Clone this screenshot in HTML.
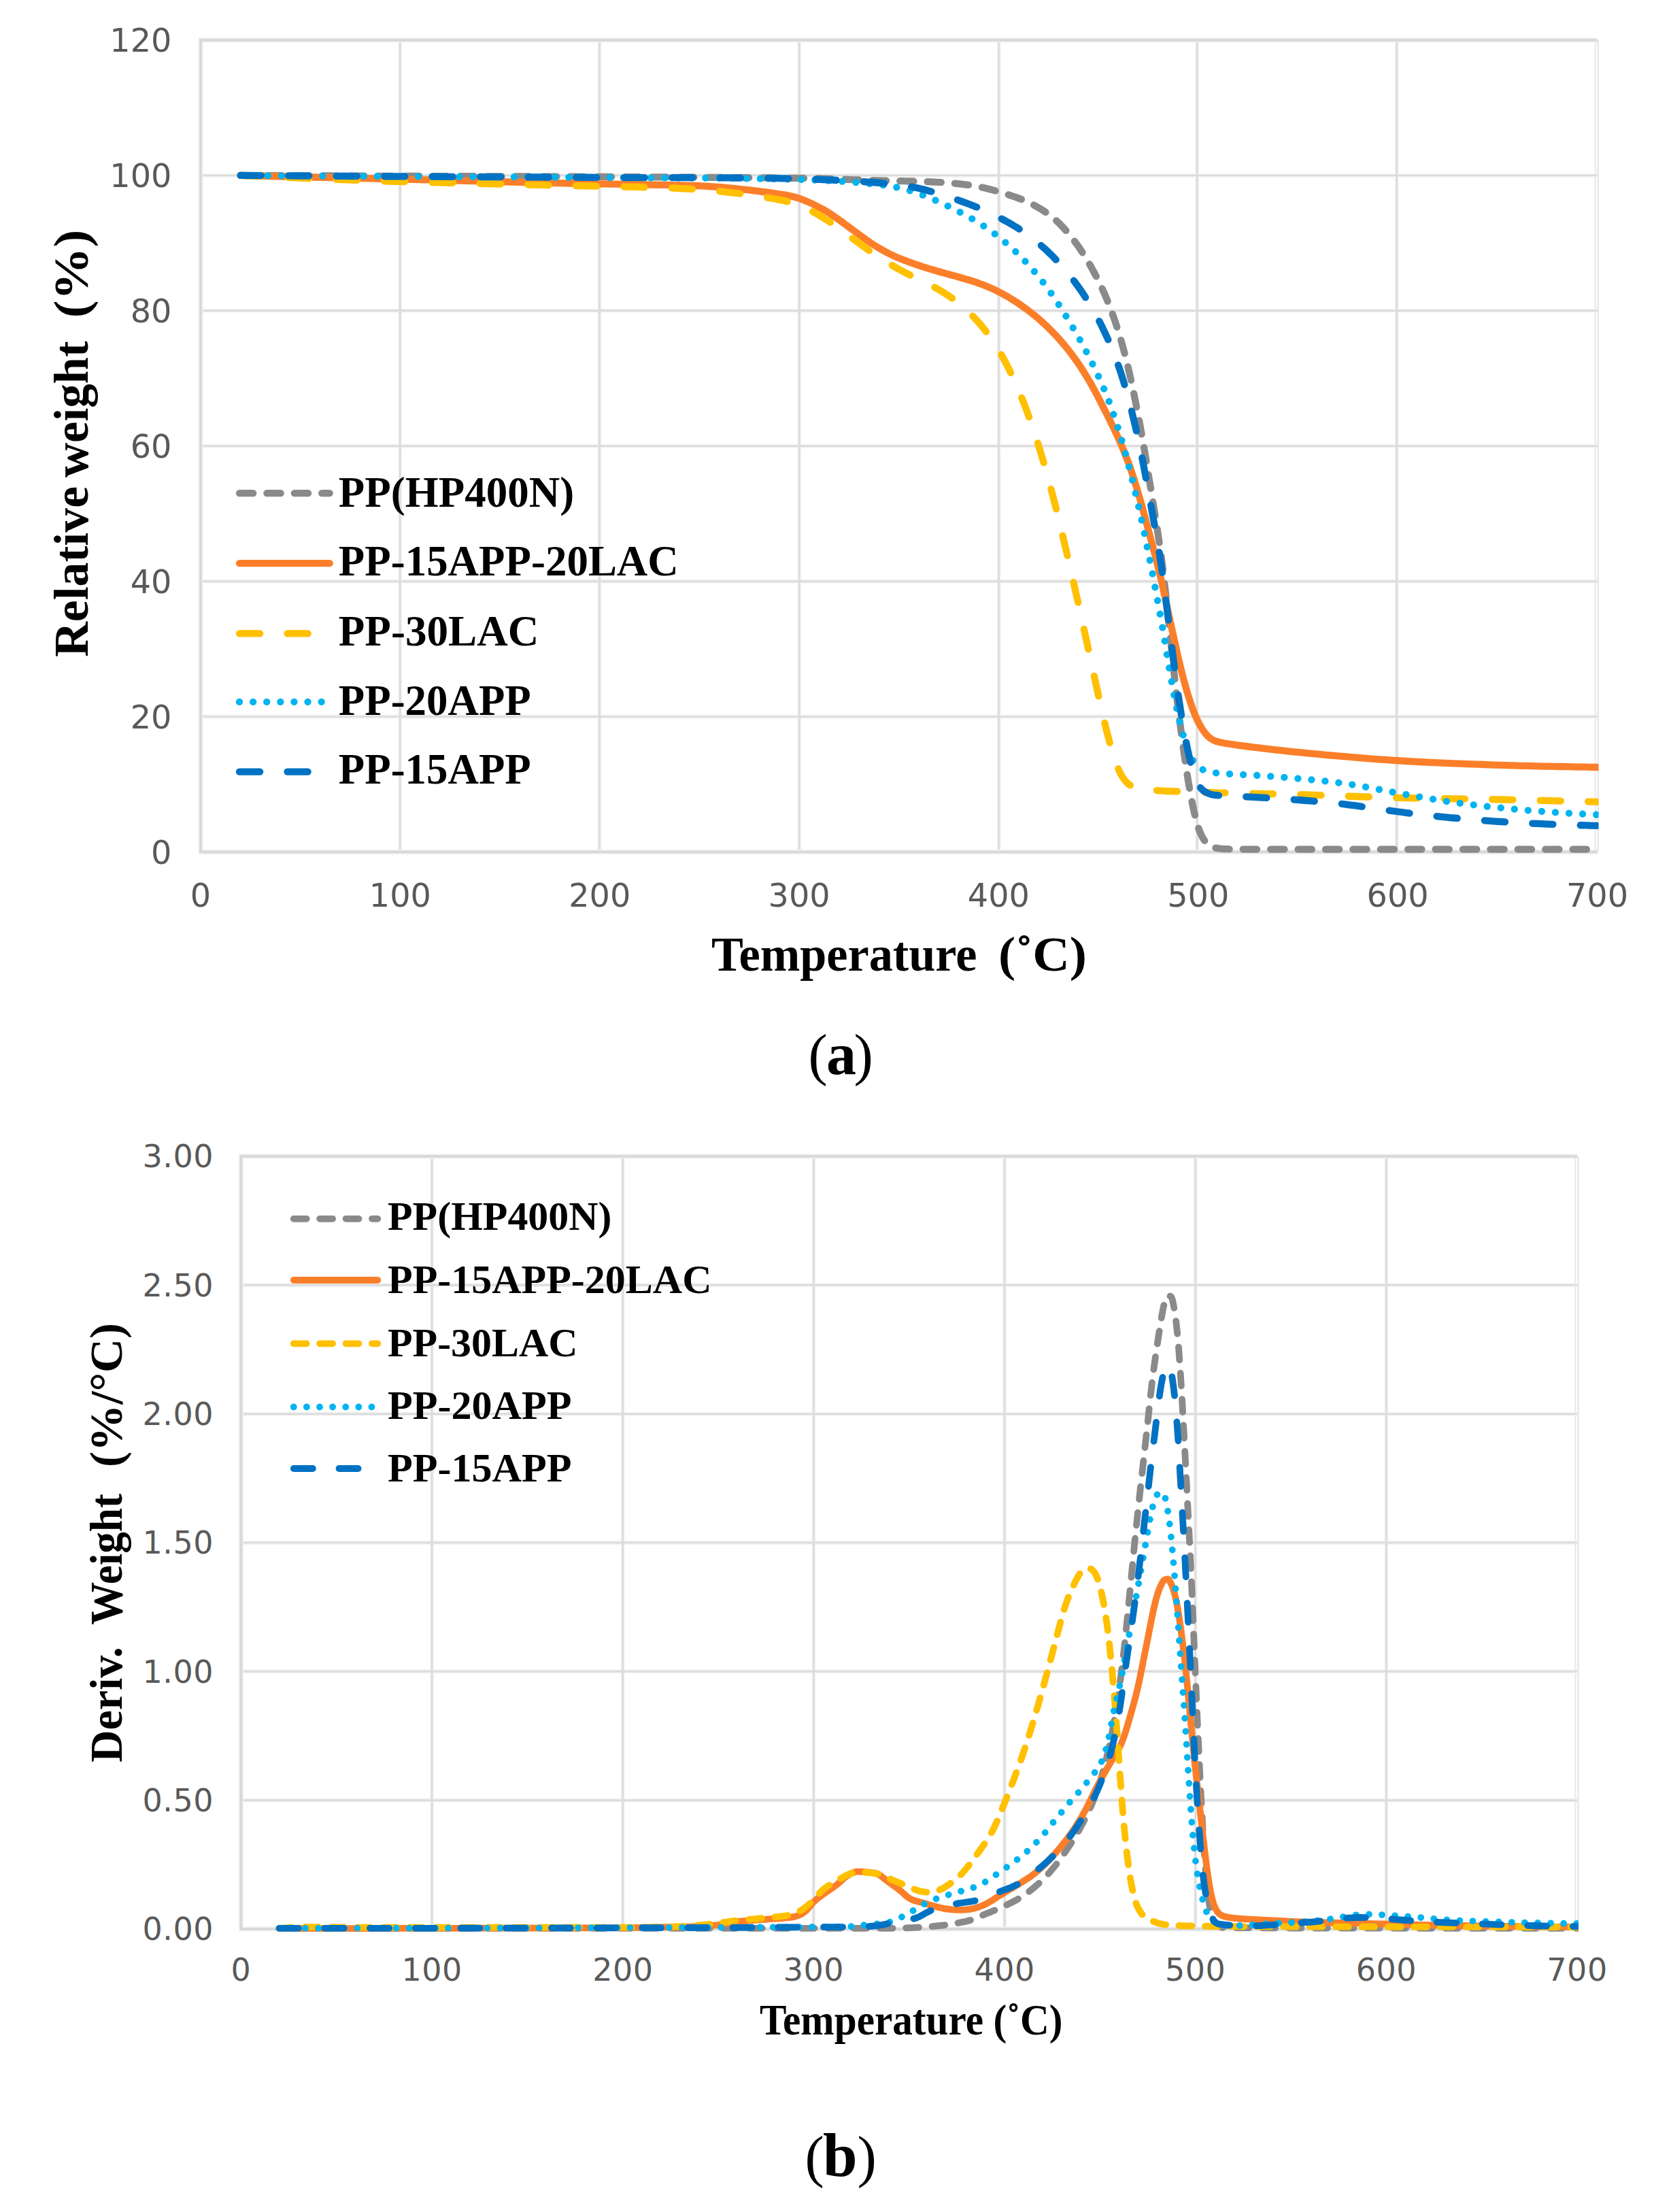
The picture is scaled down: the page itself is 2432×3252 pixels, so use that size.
<!DOCTYPE html>
<html lang="en"><head><meta charset="utf-8"><title>TGA and DTG curves</title>
<style>html,body{margin:0;padding:0;background:#fff}svg{display:block}</style></head>
<body>
<svg width="2432" height="3252" viewBox="0 0 2432 3252">
<rect width="2432" height="3252" fill="#fff"/>
<g id="chart-a">
<path d="M2349.9 59V1252.5" fill="none" stroke="#e3e3e3" stroke-width="2"/>
<path d="M2345.8 59V1252.5" fill="none" stroke="#e8e8e8" stroke-width="2"/>
<path d="M295 59V1252.5M588.2 59V1252.5M881.5 59V1252.5M1175.2 59V1252.5M1468.7 59V1252.5M1760.2 59V1252.5M2053.8 59V1252.5M295 1252.5H2348.5M295 1053.6H2348.5M295 854.7H2348.5M295 655.8H2348.5M295 456.8H2348.5M295 257.9H2348.5M295 59H2348.5" fill="none" stroke="#f0f0f0" stroke-width="5.5"/>
<path d="M295 59V1252.5M588.2 59V1252.5M881.5 59V1252.5M1175.2 59V1252.5M1468.7 59V1252.5M1760.2 59V1252.5M2053.8 59V1252.5M295 1252.5H2348.5M295 1053.6H2348.5M295 854.7H2348.5M295 655.8H2348.5M295 456.8H2348.5M295 257.9H2348.5M295 59H2348.5" fill="none" stroke="#dbdbdb" stroke-width="2.4"/>
<path d="M2348.5 59H295V1252.5H2348.5" fill="none" stroke="#efefef" stroke-width="7"/>
<path d="M2348.5 59H295V1252.5H2348.5" fill="none" stroke="#d8d8d8" stroke-width="3.4"/>
<g font-family="'DejaVu Sans','Liberation Sans',sans-serif" font-size="48.5" fill="#595959" letter-spacing="0">
<text transform="translate(252.5 1269.5) scale(0.985 1)" text-anchor="end">0</text>
<text transform="translate(252.5 1070.6) scale(0.985 1)" text-anchor="end">20</text>
<text transform="translate(252.5 871.6) scale(0.985 1)" text-anchor="end">40</text>
<text transform="translate(252.5 672.7) scale(0.985 1)" text-anchor="end">60</text>
<text transform="translate(252.5 473.8) scale(0.985 1)" text-anchor="end">80</text>
<text transform="translate(252.5 274.9) scale(0.985 1)" text-anchor="end">100</text>
<text transform="translate(252.5 76) scale(0.985 1)" text-anchor="end">120</text>
<text transform="translate(295 1333) scale(0.985 1)" text-anchor="middle">0</text>
<text transform="translate(588.4 1333) scale(0.985 1)" text-anchor="middle">100</text>
<text transform="translate(881.7 1333) scale(0.985 1)" text-anchor="middle">200</text>
<text transform="translate(1175.1 1333) scale(0.985 1)" text-anchor="middle">300</text>
<text transform="translate(1468.4 1333) scale(0.985 1)" text-anchor="middle">400</text>
<text transform="translate(1761.8 1333) scale(0.985 1)" text-anchor="middle">500</text>
<text transform="translate(2055.1 1333) scale(0.985 1)" text-anchor="middle">600</text>
<text transform="translate(2348.5 1333) scale(0.985 1)" text-anchor="middle">700</text>
</g>
<clipPath id="clip-chart-a"><rect x="275" y="39" width="2075.5" height="1233.5"/></clipPath>
<g clip-path="url(#clip-chart-a)">
<path d="M353.7 257.9C368.3 258 383 258.1 397.7 258.1C412.3 258.2 427 258.2 441.7 258.3C456.3 258.4 471 258.4 485.7 258.5C500.3 258.6 515 258.6 529.7 258.7C544.4 258.7 559 258.8 573.7 258.9C588.4 258.9 603 259 617.7 259C632.4 259.1 647 259.1 661.7 259.1C676.4 259.2 691 259.2 705.7 259.3C720.4 259.3 735 259.3 749.7 259.4C764.4 259.4 779 259.5 793.7 259.5C808.4 259.6 823 259.6 837.7 259.7C852.4 259.8 867 259.8 881.7 259.9C896.4 260 911 260.1 925.7 260.1C940.4 260.2 955.1 260.3 969.7 260.4C973.1 260.4 976.6 260.4 980 260.4C983.4 260.5 986.8 260.5 990.3 260.5C993.7 260.5 997.1 260.5 1000.5 260.6C1003.9 260.6 1007.4 260.6 1010.8 260.6C1014.2 260.6 1017.6 260.7 1021.1 260.7C1024.5 260.7 1027.9 260.7 1031.3 260.8C1034.7 260.8 1038.2 260.8 1041.6 260.8C1045 260.8 1048.4 260.9 1051.9 260.9C1055.3 260.9 1058.7 260.9 1062.1 261C1065.6 261 1069 261 1072.4 261C1075.8 261 1079.2 261.1 1082.7 261.1C1086.1 261.1 1089.5 261.1 1092.9 261.2C1096.4 261.2 1099.8 261.2 1103.2 261.3C1106.6 261.3 1110 261.3 1113.5 261.3C1116.9 261.4 1120.3 261.4 1123.7 261.4C1127.2 261.4 1130.6 261.5 1134 261.5C1137.4 261.5 1140.8 261.6 1144.3 261.6C1147.7 261.6 1151.1 261.7 1154.5 261.7C1158 261.7 1161.4 261.8 1164.8 261.8C1168.2 261.8 1171.6 261.9 1175.1 261.9C1176.8 261.9 1178.5 261.9 1180.2 262C1181.9 262 1183.6 262 1185.3 262C1187.1 262.1 1188.8 262.1 1190.5 262.1C1192.2 262.2 1193.9 262.2 1195.6 262.2C1197.3 262.3 1199 262.3 1200.7 262.4C1202.5 262.4 1204.2 262.5 1205.9 262.5C1207.6 262.6 1209.3 262.6 1211 262.7C1212.7 262.7 1214.4 262.8 1216.1 262.8C1217.9 262.9 1219.6 262.9 1221.3 263C1223 263 1224.7 263.1 1226.4 263.1C1228.1 263.2 1229.8 263.3 1231.5 263.3C1233.3 263.4 1235 263.4 1236.7 263.5C1238.4 263.6 1240.1 263.6 1241.8 263.7C1243.5 263.8 1245.2 263.8 1246.9 263.9C1248.7 263.9 1250.4 264 1252.1 264.1C1253.8 264.1 1255.5 264.2 1257.2 264.3C1258.9 264.3 1260.6 264.4 1262.3 264.4C1264.1 264.5 1265.8 264.6 1267.5 264.6C1269.2 264.7 1270.9 264.7 1272.6 264.8C1274.3 264.9 1276 264.9 1277.7 265C1279.5 265 1281.2 265.1 1282.9 265.1C1284.6 265.2 1286.3 265.2 1288 265.3C1289.7 265.3 1291.4 265.4 1293.1 265.4C1294.9 265.5 1296.6 265.5 1298.3 265.6C1300 265.6 1301.7 265.6 1303.4 265.7C1305.1 265.7 1306.8 265.8 1308.5 265.8C1310.3 265.8 1312 265.9 1313.7 265.9C1315.4 265.9 1317.1 266 1318.8 266C1320.5 266 1322.2 266.1 1324 266.1C1325.7 266.1 1327.4 266.1 1329.1 266.2C1330.8 266.2 1332.5 266.2 1334.2 266.3C1335.9 266.3 1337.6 266.3 1339.4 266.4C1341.1 266.4 1342.8 266.5 1344.5 266.5C1346.2 266.6 1347.9 266.6 1349.6 266.7C1351.3 266.7 1353 266.8 1354.8 266.8C1356.5 266.9 1358.2 266.9 1359.9 267C1361.6 267.1 1363.3 267.1 1365 267.2C1366.7 267.3 1368.4 267.3 1370.2 267.4C1371.9 267.5 1373.6 267.6 1375.3 267.7C1377 267.7 1378.7 267.8 1380.4 267.9C1382.1 268 1383.8 268.1 1385.6 268.3C1387.3 268.4 1389 268.5 1390.7 268.6C1392.4 268.7 1394.1 268.8 1395.8 269C1397.5 269.1 1399.2 269.3 1401 269.4C1402.7 269.6 1404.4 269.7 1406.1 269.9C1407.8 270 1409.5 270.2 1411.2 270.4C1412.9 270.6 1414.6 270.8 1416.4 271C1418.1 271.2 1419.8 271.4 1421.5 271.6C1423.2 271.8 1424.9 272 1426.6 272.3C1428.3 272.6 1430 272.8 1431.8 273.1C1433.5 273.4 1435.2 273.7 1436.9 274C1438.6 274.4 1440.3 274.7 1442 275.1C1443.7 275.4 1445.4 275.8 1447.2 276.2C1448.9 276.6 1450.6 277 1452.3 277.4C1454 277.8 1455.7 278.2 1457.4 278.7C1459.1 279.1 1460.9 279.6 1462.6 280.1C1464.3 280.6 1466 281.1 1467.7 281.6C1469.4 282.1 1471.1 282.6 1472.8 283.1C1474.5 283.7 1476.3 284.2 1478 284.7C1479.7 285.3 1481.4 285.8 1483.1 286.4C1484.8 286.9 1486.5 287.5 1488.2 288.1C1489.9 288.7 1491.7 289.3 1493.4 289.9C1495.1 290.5 1496.8 291.1 1498.5 291.8C1500.2 292.4 1501.9 293.1 1503.6 293.8C1505.3 294.5 1507.1 295.3 1508.8 296C1510.5 296.8 1512.2 297.5 1513.9 298.4C1515.6 299.2 1517.3 300 1519 300.9C1520.7 301.8 1522.5 302.7 1524.2 303.7C1525.9 304.6 1527.6 305.6 1529.3 306.6C1531 307.7 1532.7 308.8 1534.4 309.9C1536.1 311 1537.9 312.2 1539.6 313.4C1541.3 314.7 1543 316 1544.7 317.3C1546.4 318.6 1548.1 320 1549.8 321.5C1551.5 323 1553.3 324.5 1555 326.1C1556.7 327.7 1558.4 329.3 1560.1 331.1C1561.8 332.8 1563.5 334.6 1565.2 336.5C1566.9 338.4 1568.7 340.3 1570.4 342.4C1572.1 344.4 1573.8 346.5 1575.5 348.7C1577.2 350.9 1578.9 353.1 1580.6 355.4C1582.3 357.8 1584.1 360.2 1585.8 362.6C1587.5 365.1 1589.2 367.6 1590.9 370.3C1592.6 372.9 1594.3 375.6 1596 378.4C1597.8 381.1 1599.5 384 1601.2 386.9C1602.9 389.8 1604.6 392.9 1606.3 396C1608 399.1 1609.7 402.3 1611.4 405.6C1613.2 408.8 1614.9 412.2 1616.6 415.7C1618.3 419.2 1620 422.9 1621.7 426.7C1623.4 430.5 1625.1 434.4 1626.8 438.5C1628.6 442.7 1630.3 446.9 1632 451.4C1633.7 455.8 1635.4 460.5 1637.1 465.3C1638.8 470.1 1640.5 475.2 1642.2 480.5C1644 485.8 1645.7 491.3 1647.4 497.1C1649.1 502.9 1650.8 509 1652.5 515.5C1654.2 521.9 1655.9 528.6 1657.6 535.7C1659.4 542.8 1661.1 550.2 1662.8 558C1664.5 565.7 1666.2 573.8 1667.9 582.1C1669.6 590.4 1671.3 599.1 1673 608C1674.8 617 1676.5 626.2 1678.2 635.7C1679.9 645.3 1681.6 655.1 1683.3 665.2C1685 675.4 1686.7 686.1 1688.4 696.5C1690.2 707 1691.9 717.5 1693.6 727.9C1695.3 738.3 1697 748.3 1698.7 759.1C1700.4 769.8 1702.1 780.6 1703.8 792.4C1705.6 804.2 1707.3 816.8 1709 830.3C1710.7 843.9 1712.4 859.1 1714.1 874.4C1715.8 889.6 1717.5 906 1719.2 922.1C1721 938.2 1722.7 954.9 1724.4 970.9C1726.1 986.8 1727.8 1002.9 1729.5 1017.7C1731.2 1032.5 1732.9 1046.4 1734.7 1059.9C1736.4 1073.4 1738.1 1086.5 1739.8 1098.9C1741.5 1111.2 1743.2 1123.1 1744.9 1134.1C1746.6 1145 1748.3 1155.4 1750.1 1164.8C1751.8 1174.3 1753.5 1183.4 1755.2 1191C1756.9 1198.7 1758.6 1205.7 1760.3 1211.3C1762 1216.9 1763.7 1221.8 1765.5 1225.6C1767.2 1229.4 1768.9 1232.7 1770.6 1235.1C1772.3 1237.5 1774 1239.5 1775.7 1241C1777.4 1242.5 1779.1 1243.8 1780.9 1244.5C1782.6 1245.3 1784.3 1245.9 1786 1246.3C1787.7 1246.7 1789.4 1247 1791.1 1247.2C1792.8 1247.5 1794.5 1247.6 1796.3 1247.8C1798 1247.9 1799.7 1248 1801.4 1248.1C1803.1 1248.2 1804.8 1248.2 1806.5 1248.3C1808.2 1248.3 1809.9 1248.3 1811.7 1248.3C1813.4 1248.4 1815.1 1248.4 1816.8 1248.4C1818 1248.4 1819.2 1248.4 1820.5 1248.5C1826.3 1248.5 1832.2 1248.6 1838.1 1248.6C1843.9 1248.6 1849.8 1248.6 1855.7 1248.6C1861.5 1248.6 1867.4 1248.6 1873.3 1248.6C1879.1 1248.6 1885 1248.6 1890.9 1248.6C1896.7 1248.6 1902.6 1248.7 1908.5 1248.7C1914.3 1248.7 1920.2 1248.7 1926.1 1248.7C1931.9 1248.7 1937.8 1248.7 1943.7 1248.7C1949.5 1248.7 1955.4 1248.7 1961.3 1248.7C1967.1 1248.7 1973 1248.7 1978.9 1248.7C1984.7 1248.7 1990.6 1248.7 1996.5 1248.7C2002.3 1248.7 2008.2 1248.7 2014.1 1248.7C2019.9 1248.7 2025.8 1248.7 2031.7 1248.7C2037.5 1248.7 2043.4 1248.7 2049.3 1248.7C2055.1 1248.7 2061 1248.7 2066.9 1248.7C2072.7 1248.7 2078.6 1248.7 2084.5 1248.7C2090.3 1248.7 2096.2 1248.7 2102.1 1248.7C2107.9 1248.7 2113.8 1248.7 2119.7 1248.7C2125.5 1248.7 2131.4 1248.7 2137.3 1248.7C2143.2 1248.7 2149 1248.7 2154.9 1248.7C2160.8 1248.7 2166.6 1248.7 2172.5 1248.7C2178.4 1248.7 2184.2 1248.7 2190.1 1248.7C2196 1248.7 2201.8 1248.7 2207.7 1248.7C2213.6 1248.7 2219.4 1248.7 2225.3 1248.7C2231.2 1248.7 2237 1248.7 2242.9 1248.7C2248.8 1248.7 2254.6 1248.7 2260.5 1248.7C2266.4 1248.7 2272.2 1248.7 2278.1 1248.7C2284 1248.7 2289.8 1248.7 2295.7 1248.7C2301.6 1248.7 2307.4 1248.7 2313.3 1248.7C2319.2 1248.7 2325 1248.7 2330.9 1248.7C2336.8 1248.7 2342.6 1248.7 2348.5 1248.7" fill="none" stroke="#8a8a8a" stroke-width="10.3" stroke-linecap="round" stroke-linejoin="round" stroke-dasharray="20.3 20.1"/>
<path d="M353.7 257.9C368.3 258.3 383 258.6 397.7 259C412.3 259.3 427 259.6 441.7 260C456.3 260.3 471 260.7 485.7 261C500.3 261.4 515 261.7 529.7 262C544.4 262.4 559 262.7 573.7 263.1C588.4 263.4 603 263.7 617.7 264.1C632.4 264.4 647 264.8 661.7 265.2C676.4 265.6 691 266 705.7 266.3C720.4 266.7 735 267.1 749.7 267.5C764.4 267.8 779 268.2 793.7 268.5C808.4 268.9 823 269.2 837.7 269.5C852.4 269.8 867 270.1 881.7 270.3C896.4 270.6 911 270.8 925.7 271C940.4 271.3 955.1 271.5 969.7 271.8C973.1 271.8 976.6 271.9 980 271.9C983.4 272 986.8 272.1 990.3 272.2C993.7 272.2 997.1 272.3 1000.5 272.4C1003.9 272.5 1007.4 272.6 1010.8 272.7C1014.2 272.8 1017.6 272.9 1021.1 273C1024.5 273.1 1027.9 273.3 1031.3 273.4C1034.7 273.6 1038.2 273.8 1041.6 274C1045 274.2 1048.4 274.4 1051.9 274.7C1055.3 274.9 1058.7 275.2 1062.1 275.5C1065.6 275.8 1069 276.1 1072.4 276.4C1075.8 276.8 1079.2 277.1 1082.7 277.5C1086.1 277.8 1089.5 278.2 1092.9 278.5C1096.4 278.9 1099.8 279.3 1103.2 279.7C1106.6 280.1 1110 280.5 1113.5 280.9C1116.9 281.3 1120.3 281.8 1123.7 282.2C1127.2 282.6 1130.6 283.1 1134 283.5C1137.4 284 1140.8 284.5 1144.3 285C1147.7 285.5 1151.1 286 1154.5 286.6C1158 287.2 1161.4 287.9 1164.8 288.7C1168.2 289.5 1171.6 290.6 1175.1 291.7C1176.8 292.3 1178.5 293 1180.2 293.6C1181.9 294.3 1183.6 295 1185.3 295.7C1187.1 296.4 1188.8 297.1 1190.5 297.9C1192.2 298.7 1193.9 299.4 1195.6 300.3C1197.3 301.1 1199 301.9 1200.7 302.8C1202.5 303.7 1204.2 304.6 1205.9 305.5C1207.6 306.4 1209.3 307.3 1211 308.3C1212.7 309.3 1214.4 310.3 1216.1 311.3C1217.9 312.4 1219.6 313.5 1221.3 314.6C1223 315.7 1224.7 316.8 1226.4 318C1228.1 319.2 1229.8 320.4 1231.5 321.6C1233.3 322.8 1235 324 1236.7 325.3C1238.4 326.5 1240.1 327.8 1241.8 329.1C1243.5 330.3 1245.2 331.6 1246.9 332.9C1248.7 334.1 1250.4 335.4 1252.1 336.7C1253.8 337.9 1255.5 339.2 1257.2 340.4C1258.9 341.7 1260.6 342.9 1262.3 344.2C1264.1 345.4 1265.8 346.7 1267.5 347.9C1269.2 349.2 1270.9 350.4 1272.6 351.6C1274.3 352.8 1276 354.1 1277.7 355.2C1279.5 356.4 1281.2 357.6 1282.9 358.7C1284.6 359.8 1286.3 360.9 1288 362C1289.7 363.1 1291.4 364.1 1293.1 365.1C1294.9 366.1 1296.6 367.1 1298.3 368.1C1300 369 1301.7 370 1303.4 370.9C1305.1 371.8 1306.8 372.7 1308.5 373.5C1310.3 374.4 1312 375.2 1313.7 376C1315.4 376.8 1317.1 377.5 1318.8 378.3C1320.5 379 1322.2 379.7 1324 380.4C1325.7 381 1327.4 381.7 1329.1 382.4C1330.8 383 1332.5 383.6 1334.2 384.3C1335.9 384.9 1337.6 385.5 1339.4 386.2C1341.1 386.8 1342.8 387.4 1344.5 388C1346.2 388.6 1347.9 389.2 1349.6 389.8C1351.3 390.3 1353 390.9 1354.8 391.5C1356.5 392 1358.2 392.6 1359.9 393.1C1361.6 393.7 1363.3 394.2 1365 394.7C1366.7 395.2 1368.4 395.7 1370.2 396.3C1371.9 396.8 1373.6 397.3 1375.3 397.8C1377 398.3 1378.7 398.7 1380.4 399.2C1382.1 399.7 1383.8 400.2 1385.6 400.7C1387.3 401.1 1389 401.6 1390.7 402.1C1392.4 402.6 1394.1 403 1395.8 403.5C1397.5 404 1399.2 404.5 1401 404.9C1402.7 405.4 1404.4 405.9 1406.1 406.3C1407.8 406.8 1409.5 407.3 1411.2 407.8C1412.9 408.3 1414.6 408.8 1416.4 409.2C1418.1 409.7 1419.8 410.2 1421.5 410.8C1423.2 411.3 1424.9 411.8 1426.6 412.3C1428.3 412.8 1430 413.4 1431.8 413.9C1433.5 414.5 1435.2 415.1 1436.9 415.7C1438.6 416.3 1440.3 416.9 1442 417.5C1443.7 418.1 1445.4 418.8 1447.2 419.4C1448.9 420.1 1450.6 420.8 1452.3 421.5C1454 422.2 1455.7 423 1457.4 423.7C1459.1 424.5 1460.9 425.3 1462.6 426.1C1464.3 426.9 1466 427.8 1467.7 428.6C1469.4 429.5 1471.1 430.4 1472.8 431.3C1474.5 432.2 1476.3 433.1 1478 434.1C1479.7 435 1481.4 436 1483.1 437C1484.8 438.1 1486.5 439.1 1488.2 440.2C1489.9 441.2 1491.7 442.3 1493.4 443.4C1495.1 444.5 1496.8 445.7 1498.5 446.8C1500.2 448 1501.9 449.2 1503.6 450.4C1505.3 451.6 1507.1 452.8 1508.8 454.1C1510.5 455.4 1512.2 456.7 1513.9 458C1515.6 459.3 1517.3 460.6 1519 462C1520.7 463.4 1522.5 464.8 1524.2 466.2C1525.9 467.7 1527.6 469.1 1529.3 470.6C1531 472.1 1532.7 473.7 1534.4 475.2C1536.1 476.8 1537.9 478.4 1539.6 480.1C1541.3 481.7 1543 483.4 1544.7 485.1C1546.4 486.8 1548.1 488.6 1549.8 490.4C1551.5 492.2 1553.3 494 1555 495.9C1556.7 497.7 1558.4 499.6 1560.1 501.6C1561.8 503.6 1563.5 505.6 1565.2 507.6C1566.9 509.7 1568.7 511.8 1570.4 513.9C1572.1 516.1 1573.8 518.3 1575.5 520.6C1577.2 522.9 1578.9 525.2 1580.6 527.6C1582.3 529.9 1584.1 532.4 1585.8 534.9C1587.5 537.4 1589.2 540 1590.9 542.6C1592.6 545.2 1594.3 547.9 1596 550.7C1597.8 553.5 1599.5 556.3 1601.2 559.3C1602.9 562.2 1604.6 565.2 1606.3 568.3C1608 571.4 1609.7 574.6 1611.4 577.8C1613.2 581 1614.9 584.4 1616.6 587.7C1618.3 591 1620 594.3 1621.7 597.7C1623.4 601 1625.1 604.4 1626.8 607.7C1628.6 611.1 1630.3 614.5 1632 618C1633.7 621.5 1635.4 625 1637.1 628.5C1638.8 632.1 1640.5 635.7 1642.2 639.4C1644 643.2 1645.7 646.9 1647.4 650.9C1649.1 654.8 1650.8 658.8 1652.5 663C1654.2 667.2 1655.9 671.5 1657.6 676.1C1659.4 680.7 1661.1 685.4 1662.8 690.4C1664.5 695.4 1666.2 700.7 1667.9 706.1C1669.6 711.5 1671.3 717.1 1673 722.9C1674.8 728.7 1676.5 734.6 1678.2 740.7C1679.9 746.8 1681.6 753.1 1683.3 759.4C1685 765.8 1686.7 772.4 1688.4 778.8C1690.2 785.3 1691.9 791.7 1693.6 798.1C1695.3 804.5 1697 810.8 1698.7 817.4C1700.4 824 1702.1 830.6 1703.8 837.6C1705.6 844.7 1707.3 852.1 1709 859.7C1710.7 867.3 1712.4 875.3 1714.1 883.2C1715.8 891.1 1717.5 899.1 1719.2 907C1721 914.9 1722.7 922.8 1724.4 930.6C1726.1 938.4 1727.8 946.2 1729.5 953.7C1731.2 961.3 1732.9 968.8 1734.7 975.9C1736.4 983 1738.1 990 1739.8 996.5C1741.5 1003 1743.2 1009.3 1744.9 1015.1C1746.6 1021 1748.3 1026.6 1750.1 1031.8C1751.8 1036.9 1753.5 1041.8 1755.2 1046.2C1756.9 1050.5 1758.6 1054.6 1760.3 1058.2C1762 1061.8 1763.7 1065.1 1765.5 1068C1767.2 1070.9 1768.9 1073.6 1770.6 1075.9C1772.3 1078.2 1774 1080.3 1775.7 1082C1777.4 1083.6 1779.1 1085.1 1780.9 1086.2C1782.6 1087.3 1784.3 1088.2 1786 1088.9C1787.7 1089.6 1789.4 1090.2 1791.1 1090.6C1792.8 1091.1 1794.5 1091.4 1796.3 1091.8C1798 1092.1 1799.7 1092.4 1801.4 1092.7C1803.1 1093 1804.8 1093.3 1806.5 1093.5C1808.2 1093.8 1809.9 1094.1 1811.7 1094.3C1813.4 1094.6 1815.1 1094.8 1816.8 1095.1C1818 1095.2 1819.2 1095.4 1820.5 1095.6C1826.3 1096.4 1832.2 1097.2 1838.1 1097.9C1843.9 1098.7 1849.8 1099.4 1855.7 1100.1C1861.5 1100.8 1867.4 1101.5 1873.3 1102.2C1879.1 1102.9 1885 1103.5 1890.9 1104.1C1896.7 1104.8 1902.6 1105.4 1908.5 1105.9C1914.3 1106.5 1920.2 1107.1 1926.1 1107.7C1931.9 1108.2 1937.8 1108.8 1943.7 1109.3C1949.5 1109.9 1955.4 1110.4 1961.3 1110.9C1967.1 1111.4 1973 1111.9 1978.9 1112.4C1984.7 1112.9 1990.6 1113.4 1996.5 1113.9C2002.3 1114.4 2008.2 1114.8 2014.1 1115.3C2019.9 1115.7 2025.8 1116.2 2031.7 1116.6C2037.5 1117 2043.4 1117.4 2049.3 1117.8C2055.1 1118.2 2061 1118.6 2066.9 1119C2072.7 1119.3 2078.6 1119.7 2084.5 1120C2090.3 1120.3 2096.2 1120.6 2102.1 1120.9C2107.9 1121.1 2113.8 1121.4 2119.7 1121.7C2125.5 1121.9 2131.4 1122.2 2137.3 1122.4C2143.2 1122.6 2149 1122.8 2154.9 1123.1C2160.8 1123.3 2166.6 1123.5 2172.5 1123.7C2178.4 1123.9 2184.2 1124.1 2190.1 1124.3C2196 1124.4 2201.8 1124.6 2207.7 1124.8C2213.6 1125 2219.4 1125.2 2225.3 1125.3C2231.2 1125.5 2237 1125.7 2242.9 1125.8C2248.8 1126 2254.6 1126.1 2260.5 1126.3C2266.4 1126.4 2272.2 1126.5 2278.1 1126.7C2284 1126.8 2289.8 1126.9 2295.7 1127C2301.6 1127.1 2307.4 1127.3 2313.3 1127.4C2319.2 1127.5 2325 1127.6 2330.9 1127.7C2336.8 1127.8 2342.6 1127.9 2348.5 1128" fill="none" stroke="#fb7f2a" stroke-width="10.3" stroke-linecap="round" stroke-linejoin="round" />
<path d="M353.7 257.9C368.3 258.5 383 259.1 397.7 259.7C412.3 260.3 427 261.1 441.7 261.8C456.3 262.4 471 263 485.7 263.5C500.3 264.1 515 264.6 529.7 265.1C544.4 265.6 559 266.1 573.7 266.5C588.4 266.9 603 267.2 617.7 267.6C632.4 268 647 268.4 661.7 268.8C676.4 269.1 691 269.5 705.7 269.9C720.4 270.2 735 270.6 749.7 270.9C764.4 271.3 779 271.6 793.7 271.9C808.4 272.3 823 272.6 837.7 272.9C852.4 273.2 867 273.5 881.7 273.8C896.4 274.1 911 274.4 925.7 274.7C940.4 275.1 955.1 275.4 969.7 275.8C973.1 275.9 976.6 276 980 276.2C983.4 276.3 986.8 276.4 990.3 276.5C993.7 276.7 997.1 276.8 1000.5 277C1003.9 277.1 1007.4 277.3 1010.8 277.5C1014.2 277.7 1017.6 277.9 1021.1 278.1C1024.5 278.3 1027.9 278.5 1031.3 278.8C1034.7 279 1038.2 279.3 1041.6 279.6C1045 279.9 1048.4 280.2 1051.9 280.6C1055.3 280.9 1058.7 281.3 1062.1 281.6C1065.6 282 1069 282.4 1072.4 282.8C1075.8 283.2 1079.2 283.6 1082.7 284C1086.1 284.5 1089.5 284.9 1092.9 285.4C1096.4 285.8 1099.8 286.3 1103.2 286.8C1106.6 287.2 1110 287.7 1113.5 288.3C1116.9 288.8 1120.3 289.3 1123.7 289.8C1127.2 290.4 1130.6 290.9 1134 291.5C1137.4 292.1 1140.8 292.7 1144.3 293.4C1147.7 294 1151.1 294.7 1154.5 295.5C1158 296.3 1161.4 297.2 1164.8 298.2C1168.2 299.2 1171.6 300.4 1175.1 301.7C1176.8 302.3 1178.5 303 1180.2 303.8C1181.9 304.5 1183.6 305.3 1185.3 306.1C1187.1 306.9 1188.8 307.8 1190.5 308.6C1192.2 309.5 1193.9 310.5 1195.6 311.4C1197.3 312.3 1199 313.3 1200.7 314.3C1202.5 315.3 1204.2 316.3 1205.9 317.3C1207.6 318.3 1209.3 319.4 1211 320.5C1212.7 321.5 1214.4 322.6 1216.1 323.7C1217.9 324.8 1219.6 326 1221.3 327.1C1223 328.3 1224.7 329.5 1226.4 330.7C1228.1 331.9 1229.8 333.1 1231.5 334.3C1233.3 335.6 1235 336.8 1236.7 338.1C1238.4 339.3 1240.1 340.6 1241.8 341.8C1243.5 343.1 1245.2 344.4 1246.9 345.6C1248.7 346.9 1250.4 348.1 1252.1 349.4C1253.8 350.7 1255.5 351.9 1257.2 353.2C1258.9 354.4 1260.6 355.7 1262.3 356.9C1264.1 358.2 1265.8 359.4 1267.5 360.7C1269.2 361.9 1270.9 363.2 1272.6 364.4C1274.3 365.6 1276 366.9 1277.7 368.1C1279.5 369.3 1281.2 370.5 1282.9 371.7C1284.6 372.9 1286.3 374 1288 375.2C1289.7 376.3 1291.4 377.5 1293.1 378.6C1294.9 379.7 1296.6 380.8 1298.3 381.9C1300 383 1301.7 384 1303.4 385.1C1305.1 386.1 1306.8 387.2 1308.5 388.2C1310.3 389.2 1312 390.2 1313.7 391.2C1315.4 392.2 1317.1 393.2 1318.8 394.2C1320.5 395.1 1322.2 396.1 1324 397C1325.7 397.9 1327.4 398.9 1329.1 399.8C1330.8 400.7 1332.5 401.5 1334.2 402.4C1335.9 403.3 1337.6 404.2 1339.4 405C1341.1 405.9 1342.8 406.7 1344.5 407.5C1346.2 408.4 1347.9 409.2 1349.6 410.1C1351.3 410.9 1353 411.7 1354.8 412.5C1356.5 413.4 1358.2 414.2 1359.9 415C1361.6 415.9 1363.3 416.7 1365 417.6C1366.7 418.5 1368.4 419.4 1370.2 420.3C1371.9 421.1 1373.6 422.1 1375.3 423C1377 423.9 1378.7 424.9 1380.4 425.9C1382.1 426.9 1383.8 427.9 1385.6 428.9C1387.3 430 1389 431 1390.7 432.1C1392.4 433.2 1394.1 434.3 1395.8 435.5C1397.5 436.7 1399.2 437.9 1401 439.1C1402.7 440.3 1404.4 441.6 1406.1 442.9C1407.8 444.2 1409.5 445.6 1411.2 447C1412.9 448.4 1414.6 449.8 1416.4 451.3C1418.1 452.8 1419.8 454.4 1421.5 456C1423.2 457.6 1424.9 459.2 1426.6 460.9C1428.3 462.6 1430 464.4 1431.8 466.2C1433.5 468 1435.2 469.9 1436.9 471.8C1438.6 473.7 1440.3 475.7 1442 477.7C1443.7 479.7 1445.4 481.8 1447.2 484C1448.9 486.1 1450.6 488.4 1452.3 490.7C1454 492.9 1455.7 495.3 1457.4 497.8C1459.1 500.2 1460.9 502.8 1462.6 505.4C1464.3 508 1466 510.8 1467.7 513.6C1469.4 516.4 1471.1 519.4 1472.8 522.4C1474.5 525.4 1476.3 528.6 1478 531.8C1479.7 535 1481.4 538.4 1483.1 541.8C1484.8 545.2 1486.5 548.8 1488.2 552.4C1489.9 556.1 1491.7 559.8 1493.4 563.7C1495.1 567.5 1496.8 571.5 1498.5 575.6C1500.2 579.6 1501.9 583.8 1503.6 588.2C1505.3 592.5 1507.1 596.9 1508.8 601.5C1510.5 606 1512.2 610.7 1513.9 615.5C1515.6 620.3 1517.3 625.3 1519 630.3C1520.7 635.4 1522.5 640.6 1524.2 645.9C1525.9 651.2 1527.6 656.7 1529.3 662.2C1531 667.8 1532.7 673.5 1534.4 679.4C1536.1 685.2 1537.9 691.2 1539.6 697.4C1541.3 703.5 1543 709.8 1544.7 716.1C1546.4 722.5 1548.1 729.1 1549.8 735.8C1551.5 742.4 1553.3 749.3 1555 756.2C1556.7 763.1 1558.4 770.2 1560.1 777.3C1561.8 784.4 1563.5 791.6 1565.2 798.9C1566.9 806.1 1568.7 813.4 1570.4 820.8C1572.1 828.2 1573.8 835.6 1575.5 843.1C1577.2 850.5 1578.9 858 1580.6 865.6C1582.3 873.2 1584.1 880.9 1585.8 888.6C1587.5 896.2 1589.2 904 1590.9 911.8C1592.6 919.5 1594.3 927.3 1596 935.2C1597.8 943 1599.5 950.8 1601.2 958.7C1602.9 966.6 1604.6 974.4 1606.3 982.3C1608 990.2 1609.7 998 1611.4 1005.8C1613.2 1013.6 1614.9 1021.5 1616.6 1029.1C1618.3 1036.7 1620 1044.3 1621.7 1051.6C1623.4 1059 1625.1 1066.2 1626.8 1073.1C1628.6 1079.9 1630.3 1086.7 1632 1092.9C1633.7 1099.1 1635.4 1105.1 1637.1 1110.5C1638.8 1115.8 1640.5 1121 1642.2 1125.3C1644 1129.7 1645.7 1133.7 1647.4 1136.9C1649.1 1140.2 1650.8 1143 1652.5 1145.3C1654.2 1147.6 1655.9 1149.6 1657.6 1151.2C1659.4 1152.7 1661.1 1154 1662.8 1155C1664.5 1156 1666.2 1156.8 1667.9 1157.4C1669.6 1158 1671.3 1158.4 1673 1158.8C1674.8 1159.2 1676.5 1159.4 1678.2 1159.7C1679.9 1160 1681.6 1160.2 1683.3 1160.4C1685 1160.6 1686.7 1160.8 1688.4 1161C1690.2 1161.2 1691.9 1161.4 1693.6 1161.5C1695.3 1161.7 1697 1161.9 1698.7 1162C1700.4 1162.2 1702.1 1162.3 1703.8 1162.4C1705.6 1162.5 1707.3 1162.6 1709 1162.7C1710.7 1162.8 1712.4 1162.9 1714.1 1163C1715.8 1163 1717.5 1163.1 1719.2 1163.2C1721 1163.2 1722.7 1163.3 1724.4 1163.3C1726.1 1163.4 1727.8 1163.4 1729.5 1163.5C1731.2 1163.5 1732.9 1163.6 1734.7 1163.6C1736.4 1163.7 1738.1 1163.7 1739.8 1163.8C1741.5 1163.8 1743.2 1163.9 1744.9 1163.9C1746.6 1163.9 1748.3 1164 1750.1 1164C1751.8 1164.1 1753.5 1164.2 1755.2 1164.2C1756.9 1164.3 1758.6 1164.4 1760.3 1164.4C1762 1164.5 1763.7 1164.5 1765.5 1164.6C1767.2 1164.7 1768.9 1164.7 1770.6 1164.8C1772.3 1164.9 1774 1164.9 1775.7 1165C1777.4 1165 1779.1 1165.1 1780.9 1165.1C1782.6 1165.2 1784.3 1165.2 1786 1165.3C1787.7 1165.4 1789.4 1165.4 1791.1 1165.5C1792.8 1165.5 1794.5 1165.5 1796.3 1165.6C1798 1165.6 1799.7 1165.7 1801.4 1165.7C1803.1 1165.8 1804.8 1165.8 1806.5 1165.9C1808.2 1165.9 1809.9 1166 1811.7 1166C1813.4 1166 1815.1 1166.1 1816.8 1166.1C1818 1166.2 1819.2 1166.2 1820.5 1166.2C1826.3 1166.3 1832.2 1166.5 1838.1 1166.6C1843.9 1166.7 1849.8 1166.8 1855.7 1166.9C1861.5 1167 1867.4 1167.1 1873.3 1167.3C1879.1 1167.4 1885 1167.5 1890.9 1167.7C1896.7 1167.8 1902.6 1168 1908.5 1168.1C1914.3 1168.3 1920.2 1168.5 1926.1 1168.7C1931.9 1168.9 1937.8 1169.1 1943.7 1169.3C1949.5 1169.5 1955.4 1169.7 1961.3 1169.8C1967.1 1170 1973 1170.2 1978.9 1170.4C1984.7 1170.6 1990.6 1170.8 1996.5 1171C2002.3 1171.2 2008.2 1171.4 2014.1 1171.5C2019.9 1171.7 2025.8 1171.9 2031.7 1172.1C2037.5 1172.3 2043.4 1172.4 2049.3 1172.6C2055.1 1172.8 2061 1172.9 2066.9 1173.1C2072.7 1173.2 2078.6 1173.4 2084.5 1173.5C2090.3 1173.6 2096.2 1173.7 2102.1 1173.8C2107.9 1173.9 2113.8 1174 2119.7 1174.1C2125.5 1174.2 2131.4 1174.2 2137.3 1174.3C2143.2 1174.4 2149 1174.5 2154.9 1174.6C2160.8 1174.6 2166.6 1174.7 2172.5 1174.8C2178.4 1174.9 2184.2 1175 2190.1 1175.1C2196 1175.3 2201.8 1175.4 2207.7 1175.5C2213.6 1175.6 2219.4 1175.8 2225.3 1175.9C2231.2 1176 2237 1176.2 2242.9 1176.3C2248.8 1176.4 2254.6 1176.6 2260.5 1176.7C2266.4 1176.9 2272.2 1177 2278.1 1177.1C2284 1177.3 2289.8 1177.4 2295.7 1177.6C2301.6 1177.7 2307.4 1177.8 2313.3 1178C2319.2 1178.1 2325 1178.3 2330.9 1178.4C2336.8 1178.6 2342.6 1178.7 2348.5 1178.9" fill="none" stroke="#ffc000" stroke-width="10.3" stroke-linecap="round" stroke-linejoin="round" stroke-dasharray="30.2 40.3"/>
<path d="M353.7 257.9C368.3 258 383 258.1 397.7 258.2C412.3 258.3 427 258.4 441.7 258.5C456.3 258.6 471 258.7 485.7 258.8C500.3 258.9 515 259 529.7 259.1C544.4 259.2 559 259.2 573.7 259.3C588.4 259.4 603 259.5 617.7 259.6C632.4 259.6 647 259.7 661.7 259.8C676.4 259.9 691 259.9 705.7 260C720.4 260 735 260.1 749.7 260.2C764.4 260.2 779 260.3 793.7 260.4C808.4 260.5 823 260.5 837.7 260.6C852.4 260.7 867 260.8 881.7 260.9C896.4 261 911 261.1 925.7 261.2C940.4 261.2 955.1 261.3 969.7 261.3C973.1 261.4 976.6 261.4 980 261.4C983.4 261.4 986.8 261.4 990.3 261.4C993.7 261.5 997.1 261.5 1000.5 261.5C1003.9 261.5 1007.4 261.5 1010.8 261.5C1014.2 261.6 1017.6 261.6 1021.1 261.6C1024.5 261.6 1027.9 261.7 1031.3 261.7C1034.7 261.7 1038.2 261.7 1041.6 261.8C1045 261.8 1048.4 261.8 1051.9 261.8C1055.3 261.9 1058.7 261.9 1062.1 261.9C1065.6 262 1069 262 1072.4 262C1075.8 262.1 1079.2 262.1 1082.7 262.1C1086.1 262.2 1089.5 262.2 1092.9 262.3C1096.4 262.3 1099.8 262.4 1103.2 262.4C1106.6 262.5 1110 262.5 1113.5 262.6C1116.9 262.6 1120.3 262.7 1123.7 262.7C1127.2 262.8 1130.6 262.9 1134 262.9C1137.4 263 1140.8 263.1 1144.3 263.1C1147.7 263.2 1151.1 263.3 1154.5 263.4C1158 263.4 1161.4 263.5 1164.8 263.6C1168.2 263.7 1171.6 263.8 1175.1 263.9C1176.8 263.9 1178.5 264 1180.2 264C1181.9 264.1 1183.6 264.1 1185.3 264.2C1187.1 264.3 1188.8 264.3 1190.5 264.4C1192.2 264.4 1193.9 264.5 1195.6 264.6C1197.3 264.6 1199 264.7 1200.7 264.8C1202.5 264.9 1204.2 264.9 1205.9 265C1207.6 265.1 1209.3 265.2 1211 265.2C1212.7 265.3 1214.4 265.4 1216.1 265.5C1217.9 265.6 1219.6 265.7 1221.3 265.8C1223 265.8 1224.7 265.9 1226.4 266C1228.1 266.1 1229.8 266.2 1231.5 266.3C1233.3 266.4 1235 266.5 1236.7 266.6C1238.4 266.7 1240.1 266.8 1241.8 266.9C1243.5 267 1245.2 267.2 1246.9 267.3C1248.7 267.4 1250.4 267.5 1252.1 267.7C1253.8 267.8 1255.5 267.9 1257.2 268.1C1258.9 268.2 1260.6 268.4 1262.3 268.5C1264.1 268.6 1265.8 268.8 1267.5 269C1269.2 269.1 1270.9 269.3 1272.6 269.4C1274.3 269.6 1276 269.7 1277.7 269.9C1279.5 270.1 1281.2 270.2 1282.9 270.4C1284.6 270.6 1286.3 270.7 1288 270.9C1289.7 271.1 1291.4 271.3 1293.1 271.5C1294.9 271.7 1296.6 271.9 1298.3 272.1C1300 272.3 1301.7 272.5 1303.4 272.8C1305.1 273 1306.8 273.3 1308.5 273.6C1310.3 273.9 1312 274.2 1313.7 274.5C1315.4 274.8 1317.1 275.1 1318.8 275.5C1320.5 275.8 1322.2 276.2 1324 276.6C1325.7 277 1327.4 277.4 1329.1 277.8C1330.8 278.3 1332.5 278.7 1334.2 279.2C1335.9 279.7 1337.6 280.2 1339.4 280.7C1341.1 281.3 1342.8 281.8 1344.5 282.4C1346.2 282.9 1347.9 283.5 1349.6 284.1C1351.3 284.8 1353 285.4 1354.8 286C1356.5 286.7 1358.2 287.3 1359.9 288C1361.6 288.7 1363.3 289.3 1365 290C1366.7 290.7 1368.4 291.5 1370.2 292.2C1371.9 292.9 1373.6 293.6 1375.3 294.4C1377 295.1 1378.7 295.9 1380.4 296.7C1382.1 297.5 1383.8 298.2 1385.6 299C1387.3 299.8 1389 300.6 1390.7 301.5C1392.4 302.3 1394.1 303.1 1395.8 303.9C1397.5 304.8 1399.2 305.6 1401 306.5C1402.7 307.3 1404.4 308.2 1406.1 309.1C1407.8 310 1409.5 310.8 1411.2 311.7C1412.9 312.6 1414.6 313.5 1416.4 314.5C1418.1 315.4 1419.8 316.3 1421.5 317.3C1423.2 318.2 1424.9 319.2 1426.6 320.1C1428.3 321.1 1430 322.1 1431.8 323.1C1433.5 324.1 1435.2 325.2 1436.9 326.2C1438.6 327.3 1440.3 328.3 1442 329.4C1443.7 330.5 1445.4 331.6 1447.2 332.8C1448.9 333.9 1450.6 335.1 1452.3 336.3C1454 337.5 1455.7 338.7 1457.4 340C1459.1 341.2 1460.9 342.5 1462.6 343.8C1464.3 345.1 1466 346.4 1467.7 347.8C1469.4 349.1 1471.1 350.5 1472.8 351.9C1474.5 353.3 1476.3 354.7 1478 356.2C1479.7 357.7 1481.4 359.1 1483.1 360.6C1484.8 362.2 1486.5 363.7 1488.2 365.3C1489.9 366.8 1491.7 368.4 1493.4 370.1C1495.1 371.7 1496.8 373.4 1498.5 375.1C1500.2 376.8 1501.9 378.5 1503.6 380.2C1505.3 382 1507.1 383.8 1508.8 385.6C1510.5 387.4 1512.2 389.3 1513.9 391.2C1515.6 393.1 1517.3 395 1519 397C1520.7 399 1522.5 401 1524.2 403.1C1525.9 405.1 1527.6 407.2 1529.3 409.4C1531 411.5 1532.7 413.7 1534.4 416C1536.1 418.2 1537.9 420.5 1539.6 422.8C1541.3 425.1 1543 427.5 1544.7 429.9C1546.4 432.4 1548.1 434.9 1549.8 437.4C1551.5 439.9 1553.3 442.5 1555 445.1C1556.7 447.7 1558.4 450.4 1560.1 453C1561.8 455.7 1563.5 458.4 1565.2 461.2C1566.9 463.9 1568.7 466.7 1570.4 469.5C1572.1 472.3 1573.8 475.2 1575.5 478.1C1577.2 481 1578.9 483.9 1580.6 486.9C1582.3 489.8 1584.1 492.8 1585.8 495.9C1587.5 498.9 1589.2 502 1590.9 505.1C1592.6 508.2 1594.3 511.4 1596 514.7C1597.8 517.9 1599.5 521.2 1601.2 524.6C1602.9 527.9 1604.6 531.3 1606.3 534.8C1608 538.3 1609.7 541.8 1611.4 545.4C1613.2 549 1614.9 552.6 1616.6 556.4C1618.3 560.1 1620 564 1621.7 567.9C1623.4 571.9 1625.1 576 1626.8 580.3C1628.6 584.6 1630.3 589 1632 593.7C1633.7 598.4 1635.4 603.3 1637.1 608.4C1638.8 613.4 1640.5 618.7 1642.2 624.1C1644 629.5 1645.7 635 1647.4 640.7C1649.1 646.4 1650.8 652.3 1652.5 658.4C1654.2 664.4 1655.9 670.7 1657.6 677.2C1659.4 683.6 1661.1 690.3 1662.8 697C1664.5 703.8 1666.2 710.8 1667.9 717.9C1669.6 725 1671.3 732.3 1673 739.8C1674.8 747.2 1676.5 754.9 1678.2 762.7C1679.9 770.5 1681.6 778.6 1683.3 786.8C1685 795.1 1686.7 803.6 1688.4 812.2C1690.2 820.7 1691.9 829.5 1693.6 838.3C1695.3 847.1 1697 855.9 1698.7 865C1700.4 874 1702.1 883.1 1703.8 892.5C1705.6 901.9 1707.3 911.5 1709 921.3C1710.7 931.1 1712.4 941.3 1714.1 951.4C1715.8 961.5 1717.5 972 1719.2 981.9C1721 991.9 1722.7 1001.9 1724.4 1011.2C1726.1 1020.6 1727.8 1029.8 1729.5 1038C1731.2 1046.3 1732.9 1054.1 1734.7 1061.1C1736.4 1068.2 1738.1 1074.8 1739.8 1080.8C1741.5 1086.8 1743.2 1092.4 1744.9 1097.3C1746.6 1102.2 1748.3 1106.8 1750.1 1110.4C1751.8 1114 1753.5 1117.2 1755.2 1119.7C1756.9 1122.2 1758.6 1124.3 1760.3 1125.9C1762 1127.5 1763.7 1128.8 1765.5 1129.8C1767.2 1130.8 1768.9 1131.7 1770.6 1132.4C1772.3 1133.1 1774 1133.6 1775.7 1134.1C1777.4 1134.6 1779.1 1135 1780.9 1135.3C1782.6 1135.6 1784.3 1135.9 1786 1136.1C1787.7 1136.4 1789.4 1136.5 1791.1 1136.7C1792.8 1136.9 1794.5 1137 1796.3 1137.2C1798 1137.3 1799.7 1137.4 1801.4 1137.5C1803.1 1137.6 1804.8 1137.7 1806.5 1137.8C1808.2 1137.9 1809.9 1138 1811.7 1138.1C1813.4 1138.2 1815.1 1138.3 1816.8 1138.3C1818 1138.4 1819.2 1138.5 1820.5 1138.5C1826.3 1138.8 1832.2 1139.1 1838.1 1139.4C1843.9 1139.7 1849.8 1140.1 1855.7 1140.5C1861.5 1140.9 1867.4 1141.3 1873.3 1141.8C1879.1 1142.2 1885 1142.7 1890.9 1143.1C1896.7 1143.6 1902.6 1144.1 1908.5 1144.6C1914.3 1145.1 1920.2 1145.6 1926.1 1146.2C1931.9 1146.7 1937.8 1147.3 1943.7 1147.9C1949.5 1148.5 1955.4 1149.1 1961.3 1149.8C1967.1 1150.6 1973 1151.3 1978.9 1152.2C1984.7 1153 1990.6 1153.9 1996.5 1154.9C2002.3 1155.9 2008.2 1157 2014.1 1158.1C2019.9 1159.1 2025.8 1160.3 2031.7 1161.4C2037.5 1162.5 2043.4 1163.7 2049.3 1164.8C2055.1 1165.8 2061 1166.9 2066.9 1168C2072.7 1169 2078.6 1170.1 2084.5 1171.1C2090.3 1172.1 2096.2 1173.1 2102.1 1174.1C2107.9 1175.1 2113.8 1176 2119.7 1177C2125.5 1177.9 2131.4 1178.7 2137.3 1179.5C2143.2 1180.4 2149 1181.1 2154.9 1181.9C2160.8 1182.6 2166.6 1183.4 2172.5 1184C2178.4 1184.7 2184.2 1185.4 2190.1 1186C2196 1186.6 2201.8 1187.2 2207.7 1187.8C2213.6 1188.4 2219.4 1188.9 2225.3 1189.5C2231.2 1190 2237 1190.5 2242.9 1191C2248.8 1191.5 2254.6 1191.9 2260.5 1192.4C2266.4 1192.8 2272.2 1193.3 2278.1 1193.7C2284 1194.1 2289.8 1194.5 2295.7 1194.8C2301.6 1195.2 2307.4 1195.6 2313.3 1195.9C2319.2 1196.3 2325 1196.6 2330.9 1196.9C2336.8 1197.2 2342.6 1197.5 2348.5 1197.8" fill="none" stroke="#00b4f0" stroke-width="10.3" stroke-linecap="round" stroke-linejoin="round" stroke-dasharray="0.01 20.1"/>
<path d="M353.7 257.9C368.3 258 383 258.1 397.7 258.2C412.3 258.3 427 258.4 441.7 258.5C456.3 258.6 471 258.7 485.7 258.8C500.3 258.9 515 259 529.7 259.1C544.4 259.2 559 259.2 573.7 259.3C588.4 259.4 603 259.5 617.7 259.6C632.4 259.7 647 259.7 661.7 259.8C676.4 259.9 691 259.9 705.7 260C720.4 260.1 735 260.2 749.7 260.2C764.4 260.3 779 260.4 793.7 260.4C808.4 260.5 823 260.6 837.7 260.7C852.4 260.7 867 260.8 881.7 260.9C896.4 261 911 261 925.7 261.1C940.4 261.1 955.1 261.1 969.7 261.1C973.1 261.1 976.6 261.1 980 261.1C983.4 261.1 986.8 261.1 990.3 261.1C993.7 261.1 997.1 261.2 1000.5 261.2C1003.9 261.2 1007.4 261.2 1010.8 261.2C1014.2 261.2 1017.6 261.2 1021.1 261.2C1024.5 261.2 1027.9 261.2 1031.3 261.2C1034.7 261.2 1038.2 261.2 1041.6 261.3C1045 261.3 1048.4 261.3 1051.9 261.3C1055.3 261.3 1058.7 261.3 1062.1 261.3C1065.6 261.4 1069 261.4 1072.4 261.4C1075.8 261.4 1079.2 261.5 1082.7 261.5C1086.1 261.5 1089.5 261.5 1092.9 261.6C1096.4 261.6 1099.8 261.6 1103.2 261.7C1106.6 261.7 1110 261.7 1113.5 261.8C1116.9 261.8 1120.3 261.9 1123.7 261.9C1127.2 262 1130.6 262 1134 262.1C1137.4 262.1 1140.8 262.2 1144.3 262.2C1147.7 262.3 1151.1 262.4 1154.5 262.4C1158 262.5 1161.4 262.6 1164.8 262.7C1168.2 262.7 1171.6 262.8 1175.1 262.9C1176.8 262.9 1178.5 263 1180.2 263C1181.9 263.1 1183.6 263.1 1185.3 263.2C1187.1 263.2 1188.8 263.3 1190.5 263.3C1192.2 263.4 1193.9 263.5 1195.6 263.5C1197.3 263.6 1199 263.6 1200.7 263.7C1202.5 263.8 1204.2 263.8 1205.9 263.9C1207.6 264 1209.3 264 1211 264.1C1212.7 264.2 1214.4 264.3 1216.1 264.3C1217.9 264.4 1219.6 264.5 1221.3 264.6C1223 264.7 1224.7 264.7 1226.4 264.8C1228.1 264.9 1229.8 265 1231.5 265.1C1233.3 265.1 1235 265.2 1236.7 265.3C1238.4 265.4 1240.1 265.5 1241.8 265.6C1243.5 265.6 1245.2 265.7 1246.9 265.8C1248.7 265.9 1250.4 266 1252.1 266.1C1253.8 266.2 1255.5 266.3 1257.2 266.4C1258.9 266.5 1260.6 266.6 1262.3 266.7C1264.1 266.8 1265.8 266.9 1267.5 267C1269.2 267.1 1270.9 267.2 1272.6 267.3C1274.3 267.4 1276 267.5 1277.7 267.7C1279.5 267.8 1281.2 267.9 1282.9 268C1284.6 268.2 1286.3 268.3 1288 268.5C1289.7 268.6 1291.4 268.8 1293.1 268.9C1294.9 269.1 1296.6 269.2 1298.3 269.4C1300 269.6 1301.7 269.7 1303.4 269.9C1305.1 270.1 1306.8 270.3 1308.5 270.5C1310.3 270.7 1312 270.8 1313.7 271C1315.4 271.2 1317.1 271.4 1318.8 271.6C1320.5 271.8 1322.2 272.1 1324 272.3C1325.7 272.5 1327.4 272.7 1329.1 272.9C1330.8 273.2 1332.5 273.4 1334.2 273.7C1335.9 273.9 1337.6 274.2 1339.4 274.5C1341.1 274.8 1342.8 275.1 1344.5 275.5C1346.2 275.8 1347.9 276.2 1349.6 276.5C1351.3 276.9 1353 277.3 1354.8 277.7C1356.5 278.1 1358.2 278.6 1359.9 279C1361.6 279.4 1363.3 279.9 1365 280.4C1366.7 280.8 1368.4 281.3 1370.2 281.8C1371.9 282.3 1373.6 282.8 1375.3 283.3C1377 283.8 1378.7 284.3 1380.4 284.8C1382.1 285.4 1383.8 285.9 1385.6 286.4C1387.3 287 1389 287.5 1390.7 288.1C1392.4 288.7 1394.1 289.2 1395.8 289.8C1397.5 290.4 1399.2 291 1401 291.6C1402.7 292.1 1404.4 292.7 1406.1 293.3C1407.8 293.9 1409.5 294.5 1411.2 295.1C1412.9 295.7 1414.6 296.4 1416.4 297C1418.1 297.6 1419.8 298.2 1421.5 298.8C1423.2 299.5 1424.9 300.1 1426.6 300.8C1428.3 301.4 1430 302.1 1431.8 302.8C1433.5 303.4 1435.2 304.1 1436.9 304.8C1438.6 305.5 1440.3 306.2 1442 306.9C1443.7 307.7 1445.4 308.4 1447.2 309.2C1448.9 309.9 1450.6 310.7 1452.3 311.5C1454 312.3 1455.7 313.1 1457.4 313.9C1459.1 314.7 1460.9 315.6 1462.6 316.4C1464.3 317.3 1466 318.1 1467.7 319C1469.4 319.9 1471.1 320.8 1472.8 321.7C1474.5 322.6 1476.3 323.5 1478 324.5C1479.7 325.4 1481.4 326.4 1483.1 327.3C1484.8 328.3 1486.5 329.3 1488.2 330.3C1489.9 331.3 1491.7 332.3 1493.4 333.4C1495.1 334.4 1496.8 335.5 1498.5 336.6C1500.2 337.7 1501.9 338.9 1503.6 340C1505.3 341.2 1507.1 342.4 1508.8 343.6C1510.5 344.8 1512.2 346.1 1513.9 347.3C1515.6 348.6 1517.3 349.9 1519 351.3C1520.7 352.6 1522.5 354 1524.2 355.4C1525.9 356.8 1527.6 358.2 1529.3 359.6C1531 361.1 1532.7 362.6 1534.4 364.1C1536.1 365.7 1537.9 367.2 1539.6 368.8C1541.3 370.4 1543 372.1 1544.7 373.7C1546.4 375.4 1548.1 377.1 1549.8 378.9C1551.5 380.6 1553.3 382.4 1555 384.3C1556.7 386.1 1558.4 388 1560.1 389.9C1561.8 391.8 1563.5 393.7 1565.2 395.7C1566.9 397.7 1568.7 399.8 1570.4 401.8C1572.1 403.9 1573.8 406.1 1575.5 408.2C1577.2 410.4 1578.9 412.6 1580.6 414.9C1582.3 417.2 1584.1 419.6 1585.8 422C1587.5 424.4 1589.2 426.8 1590.9 429.4C1592.6 431.9 1594.3 434.5 1596 437.1C1597.8 439.8 1599.5 442.5 1601.2 445.3C1602.9 448.1 1604.6 451 1606.3 453.9C1608 456.9 1609.7 459.9 1611.4 463C1613.2 466.1 1614.9 469.4 1616.6 472.7C1618.3 476 1620 479.4 1621.7 482.9C1623.4 486.4 1625.1 490.1 1626.8 493.8C1628.6 497.6 1630.3 501.4 1632 505.4C1633.7 509.4 1635.4 513.6 1637.1 517.9C1638.8 522.2 1640.5 526.7 1642.2 531.4C1644 536.1 1645.7 541 1647.4 546.1C1649.1 551.3 1650.8 556.7 1652.5 562.4C1654.2 568.1 1655.9 574.1 1657.6 580.3C1659.4 586.5 1661.1 593 1662.8 599.7C1664.5 606.5 1666.2 613.4 1667.9 620.7C1669.6 627.9 1671.3 635.4 1673 643.2C1674.8 651 1676.5 659.1 1678.2 667.6C1679.9 676 1681.6 684.7 1683.3 693.8C1685 702.9 1686.7 712.6 1688.4 722C1690.2 731.4 1691.9 740.9 1693.6 750.3C1695.3 759.6 1697 768.6 1698.7 778.2C1700.4 787.8 1702.1 797.4 1703.8 808C1705.6 818.5 1707.3 829.9 1709 842C1710.7 854 1712.4 867.2 1714.1 880.4C1715.8 893.6 1717.5 907.4 1719.2 921C1721 934.6 1722.7 948.6 1724.4 961.9C1726.1 975.3 1727.8 988.7 1729.5 1001.1C1731.2 1013.4 1732.9 1025.3 1734.7 1036.4C1736.4 1047.5 1738.1 1058.1 1739.8 1067.9C1741.5 1077.6 1743.2 1086.9 1744.9 1095.3C1746.6 1103.7 1748.3 1111.6 1750.1 1118.5C1751.8 1125.4 1753.5 1132 1755.2 1137.2C1756.9 1142.3 1758.6 1146.9 1760.3 1150.2C1762 1153.6 1763.7 1156.4 1765.5 1158.4C1767.2 1160.5 1768.9 1162.1 1770.6 1163.3C1772.3 1164.5 1774 1165.3 1775.7 1166.1C1777.4 1166.8 1779.1 1167.5 1780.9 1167.9C1782.6 1168.4 1784.3 1168.7 1786 1168.9C1787.7 1169.1 1789.4 1169.3 1791.1 1169.4C1792.8 1169.5 1794.5 1169.5 1796.3 1169.6C1798 1169.6 1799.7 1169.7 1801.4 1169.8C1803.1 1169.9 1804.8 1170 1806.5 1170.1C1808.2 1170.2 1809.9 1170.3 1811.7 1170.4C1813.4 1170.4 1815.1 1170.5 1816.8 1170.6C1818 1170.7 1819.2 1170.8 1820.5 1170.8C1826.3 1171.1 1832.2 1171.4 1838.1 1171.7C1843.9 1172 1849.8 1172.3 1855.7 1172.6C1861.5 1172.9 1867.4 1173.3 1873.3 1173.6C1879.1 1174 1885 1174.3 1890.9 1174.7C1896.7 1175.1 1902.6 1175.6 1908.5 1176C1914.3 1176.4 1920.2 1176.9 1926.1 1177.4C1931.9 1177.8 1937.8 1178.3 1943.7 1178.9C1949.5 1179.4 1955.4 1179.9 1961.3 1180.6C1967.1 1181.2 1973 1181.8 1978.9 1182.6C1984.7 1183.3 1990.6 1184.1 1996.5 1184.9C2002.3 1185.7 2008.2 1186.6 2014.1 1187.4C2019.9 1188.2 2025.8 1189.1 2031.7 1190C2037.5 1190.8 2043.4 1191.7 2049.3 1192.5C2055.1 1193.3 2061 1194.1 2066.9 1194.8C2072.7 1195.6 2078.6 1196.3 2084.5 1197C2090.3 1197.7 2096.2 1198.4 2102.1 1199C2107.9 1199.6 2113.8 1200.2 2119.7 1200.8C2125.5 1201.4 2131.4 1202 2137.3 1202.5C2143.2 1203 2149 1203.6 2154.9 1204.1C2160.8 1204.6 2166.6 1205 2172.5 1205.5C2178.4 1206 2184.2 1206.4 2190.1 1206.8C2196 1207.3 2201.8 1207.7 2207.7 1208C2213.6 1208.4 2219.4 1208.8 2225.3 1209.1C2231.2 1209.5 2237 1209.8 2242.9 1210.1C2248.8 1210.4 2254.6 1210.7 2260.5 1210.9C2266.4 1211.2 2272.2 1211.5 2278.1 1211.7C2284 1211.9 2289.8 1212.1 2295.7 1212.3C2301.6 1212.6 2307.4 1212.7 2313.3 1212.9C2319.2 1213.1 2325 1213.3 2330.9 1213.4C2336.8 1213.6 2342.6 1213.8 2348.5 1213.9" fill="none" stroke="#0072c4" stroke-width="10.3" stroke-linecap="round" stroke-linejoin="round" stroke-dasharray="30.2 40.3"/>
</g>
<g font-family="'Liberation Serif',serif" font-weight="bold" font-size="62.5" fill="#000">
<path d="M352 725.1H484.7" fill="none" stroke="#8a8a8a" stroke-width="10.3" stroke-linecap="round" stroke-dasharray="20.3 20.1"/>
<text x="497.8" y="745" textLength="346.5" lengthAdjust="spacingAndGlyphs">PP(HP400N)</text>
<path d="M352 828.2H484.7" fill="none" stroke="#fb7f2a" stroke-width="10.3" stroke-linecap="round" />
<text x="497.8" y="846" textLength="500" lengthAdjust="spacingAndGlyphs">PP-15APP-20LAC</text>
<path d="M352 931.3H484.7" fill="none" stroke="#ffc000" stroke-width="10.3" stroke-linecap="round" stroke-dasharray="30.2 40.3"/>
<text x="497.8" y="949" textLength="294.5" lengthAdjust="spacingAndGlyphs">PP-30LAC</text>
<path d="M352 1031.9H484.7" fill="none" stroke="#00b4f0" stroke-width="10.3" stroke-linecap="round" stroke-dasharray="0.01 20.1"/>
<text x="497.8" y="1051" textLength="283" lengthAdjust="spacingAndGlyphs">PP-20APP</text>
<path d="M352 1134.6H484.7" fill="none" stroke="#0072c4" stroke-width="10.3" stroke-linecap="round" stroke-dasharray="30.2 40.3"/>
<text x="497.8" y="1152" textLength="283" lengthAdjust="spacingAndGlyphs">PP-15APP</text>
</g>
</g>
<g id="chart-b">
<path d="M2320.5 1700V2836" fill="none" stroke="#e3e3e3" stroke-width="2"/>
<path d="M2316.4 1700V2836" fill="none" stroke="#e8e8e8" stroke-width="2"/>
<path d="M354.5 1700V2836M635.1 1700V2836M915.8 1700V2836M1196.4 1700V2836M1477.1 1700V2836M1757.7 1700V2836M2038.4 1700V2836M354.5 2836H2319M354.5 2646.7H2319M354.5 2457.3H2319M354.5 2268H2319M354.5 2078.7H2319M354.5 1889.3H2319M354.5 1700H2319" fill="none" stroke="#f0f0f0" stroke-width="5.5"/>
<path d="M354.5 1700V2836M635.1 1700V2836M915.8 1700V2836M1196.4 1700V2836M1477.1 1700V2836M1757.7 1700V2836M2038.4 1700V2836M354.5 2836H2319M354.5 2646.7H2319M354.5 2457.3H2319M354.5 2268H2319M354.5 2078.7H2319M354.5 1889.3H2319M354.5 1700H2319" fill="none" stroke="#dbdbdb" stroke-width="2.4"/>
<path d="M2319 1700H354.5V2836H2319" fill="none" stroke="#efefef" stroke-width="7"/>
<path d="M2319 1700H354.5V2836H2319" fill="none" stroke="#d8d8d8" stroke-width="3.4"/>
<g font-family="'DejaVu Sans','Liberation Sans',sans-serif" font-size="46.5" fill="#595959" letter-spacing="0.5">
<text transform="translate(314 2852.2) scale(0.99 1)" text-anchor="end">0.00</text>
<text transform="translate(314 2662.9) scale(0.99 1)" text-anchor="end">0.50</text>
<text transform="translate(314 2473.6) scale(0.99 1)" text-anchor="end">1.00</text>
<text transform="translate(314 2284.2) scale(0.99 1)" text-anchor="end">1.50</text>
<text transform="translate(314 2094.9) scale(0.99 1)" text-anchor="end">2.00</text>
<text transform="translate(314 1905.6) scale(0.99 1)" text-anchor="end">2.50</text>
<text transform="translate(314 1716.2) scale(0.99 1)" text-anchor="end">3.00</text>
<text transform="translate(354.5 2911.5) scale(0.99 1)" text-anchor="middle">0</text>
<text transform="translate(635.1 2911.5) scale(0.99 1)" text-anchor="middle">100</text>
<text transform="translate(915.8 2911.5) scale(0.99 1)" text-anchor="middle">200</text>
<text transform="translate(1196.4 2911.5) scale(0.99 1)" text-anchor="middle">300</text>
<text transform="translate(1477.1 2911.5) scale(0.99 1)" text-anchor="middle">400</text>
<text transform="translate(1757.7 2911.5) scale(0.99 1)" text-anchor="middle">500</text>
<text transform="translate(2038.4 2911.5) scale(0.99 1)" text-anchor="middle">600</text>
<text transform="translate(2319 2911.5) scale(0.99 1)" text-anchor="middle">700</text>
</g>
<clipPath id="clip-chart-b"><rect x="334.5" y="1680" width="1986.5" height="1176"/></clipPath>
<g clip-path="url(#clip-chart-b)">
<path d="M410.6 2834.9C424.7 2834.9 438.7 2834.9 452.7 2834.9C466.8 2834.9 480.8 2834.9 494.8 2834.9C508.9 2834.9 522.9 2834.9 536.9 2834.9C551 2834.9 565 2834.9 579 2834.9C593 2834.9 607.1 2834.9 621.1 2834.9C635.1 2834.9 649.2 2834.9 663.2 2834.9C677.2 2834.9 691.3 2834.9 705.3 2834.9C719.3 2834.9 733.4 2834.9 747.4 2834.9C761.4 2834.9 775.5 2834.9 789.5 2834.9C803.5 2834.9 817.6 2834.9 831.6 2834.9C845.6 2834.9 859.7 2834.9 873.7 2834.9C887.7 2834.9 901.8 2834.9 915.8 2834.9C929.8 2834.9 943.9 2834.9 957.9 2834.9C971.9 2834.9 985.9 2834.9 1000 2834.9C1003.3 2834.9 1006.5 2834.9 1009.8 2834.9C1013.1 2834.9 1016.3 2834.9 1019.6 2834.9C1022.9 2834.9 1026.2 2834.9 1029.4 2834.9C1032.7 2834.9 1036 2834.9 1039.3 2834.9C1042.5 2834.9 1045.8 2834.9 1049.1 2834.9C1052.4 2834.9 1055.6 2834.9 1058.9 2834.9C1062.2 2834.9 1065.5 2834.9 1068.7 2834.9C1072 2834.9 1075.3 2834.9 1078.6 2834.9C1081.8 2834.9 1085.1 2834.9 1088.4 2834.9C1091.7 2834.9 1094.9 2834.9 1098.2 2834.9C1101.5 2834.9 1104.8 2834.9 1108 2834.9C1111.3 2834.9 1114.6 2834.9 1117.8 2834.9C1121.1 2834.9 1124.4 2834.9 1127.7 2834.9C1130.9 2834.9 1134.2 2834.9 1137.5 2834.9C1140.8 2834.9 1144 2834.9 1147.3 2834.9C1150.6 2834.9 1153.9 2834.9 1157.1 2834.9C1160.4 2834.9 1163.7 2834.9 1167 2834.9C1170.2 2834.9 1173.5 2834.9 1176.8 2834.9C1180.1 2834.9 1183.3 2834.9 1186.6 2834.9C1189.9 2834.9 1193.2 2834.9 1196.4 2834.9C1198.1 2834.9 1199.7 2834.9 1201.3 2834.9C1203 2834.9 1204.6 2834.9 1206.3 2834.9C1207.9 2834.9 1209.5 2834.9 1211.2 2834.9C1212.8 2834.9 1214.4 2834.9 1216.1 2834.9C1217.7 2834.9 1219.3 2834.9 1221 2834.9C1222.6 2834.9 1224.3 2834.9 1225.9 2834.9C1227.5 2834.9 1229.2 2834.9 1230.8 2834.9C1232.4 2834.9 1234.1 2834.9 1235.7 2834.9C1237.4 2834.9 1239 2834.9 1240.6 2834.9C1242.3 2834.9 1243.9 2834.9 1245.5 2834.9C1247.2 2834.9 1248.8 2834.9 1250.5 2834.9C1252.1 2834.9 1253.7 2834.9 1255.4 2834.9C1257 2834.9 1258.6 2834.9 1260.3 2834.9C1261.9 2834.9 1263.5 2834.9 1265.2 2834.9C1266.8 2834.9 1268.5 2834.9 1270.1 2834.9C1271.7 2834.9 1273.4 2834.9 1275 2834.9C1276.6 2834.9 1278.3 2834.9 1279.9 2834.9C1281.6 2834.9 1283.2 2834.9 1284.8 2834.9C1286.5 2834.9 1288.1 2834.9 1289.7 2834.9C1291.4 2834.9 1293 2834.9 1294.7 2834.9C1296.3 2834.9 1297.9 2834.9 1299.6 2834.9C1301.2 2834.9 1302.8 2834.9 1304.5 2834.9C1306.1 2834.9 1307.8 2834.9 1309.4 2834.9C1311 2834.9 1312.7 2834.8 1314.3 2834.8C1315.9 2834.8 1317.6 2834.8 1319.2 2834.7C1320.8 2834.7 1322.5 2834.7 1324.1 2834.6C1325.8 2834.6 1327.4 2834.5 1329 2834.5C1330.7 2834.4 1332.3 2834.4 1333.9 2834.3C1335.6 2834.2 1337.2 2834.2 1338.9 2834.1C1340.5 2834.1 1342.1 2834 1343.8 2833.9C1345.4 2833.9 1347 2833.8 1348.7 2833.7C1350.3 2833.6 1352 2833.5 1353.6 2833.4C1355.2 2833.3 1356.9 2833.2 1358.5 2833.1C1360.1 2833 1361.8 2832.8 1363.4 2832.7C1365 2832.6 1366.7 2832.5 1368.3 2832.3C1370 2832.2 1371.6 2832 1373.2 2831.9C1374.9 2831.7 1376.5 2831.6 1378.1 2831.4C1379.8 2831.3 1381.4 2831.1 1383.1 2830.9C1384.7 2830.7 1386.3 2830.5 1388 2830.3C1389.6 2830 1391.2 2829.8 1392.9 2829.6C1394.5 2829.3 1396.2 2829.1 1397.8 2828.8C1399.4 2828.6 1401.1 2828.3 1402.7 2828C1404.3 2827.8 1406 2827.5 1407.6 2827.2C1409.2 2826.9 1410.9 2826.7 1412.5 2826.3C1414.2 2826 1415.8 2825.7 1417.4 2825.4C1419.1 2825 1420.7 2824.6 1422.3 2824.2C1424 2823.8 1425.6 2823.4 1427.3 2822.9C1428.9 2822.5 1430.5 2821.9 1432.2 2821.3C1433.8 2820.7 1435.4 2820 1437.1 2819.3C1438.7 2818.6 1440.4 2817.8 1442 2817C1443.6 2816.3 1445.3 2815.6 1446.9 2814.8C1448.5 2814.1 1450.2 2813.5 1451.8 2812.8C1453.5 2812.1 1455.1 2811.4 1456.7 2810.8C1458.4 2810.1 1460 2809.5 1461.6 2808.8C1463.3 2808.1 1464.9 2807.4 1466.5 2806.7C1468.2 2806 1469.8 2805.3 1471.5 2804.6C1473.1 2803.8 1474.7 2803.1 1476.4 2802.3C1478 2801.6 1479.6 2800.8 1481.3 2800C1482.9 2799.3 1484.6 2798.5 1486.2 2797.6C1487.8 2796.8 1489.5 2796 1491.1 2795.1C1492.7 2794.2 1494.4 2793.3 1496 2792.3C1497.7 2791.4 1499.3 2790.4 1500.9 2789.3C1502.6 2788.3 1504.2 2787.2 1505.8 2786.1C1507.5 2785 1509.1 2783.8 1510.7 2782.6C1512.4 2781.4 1514 2780.2 1515.7 2778.9C1517.3 2777.6 1518.9 2776.3 1520.6 2774.9C1522.2 2773.6 1523.8 2772.2 1525.5 2770.7C1527.1 2769.2 1528.8 2767.7 1530.4 2766.2C1532 2764.6 1533.7 2763 1535.3 2761.3C1536.9 2759.6 1538.6 2757.9 1540.2 2756.1C1541.9 2754.3 1543.5 2752.5 1545.1 2750.6C1546.8 2748.7 1548.4 2746.8 1550 2744.8C1551.7 2742.8 1553.3 2740.7 1554.9 2738.5C1556.6 2736.4 1558.2 2734.1 1559.9 2731.8C1561.5 2729.6 1563.1 2727.2 1564.8 2724.9C1566.4 2722.5 1568 2720.1 1569.7 2717.7C1571.3 2715.2 1573 2712.8 1574.6 2710.2C1576.2 2707.7 1577.9 2705.1 1579.5 2702.5C1581.1 2699.8 1582.8 2697.1 1584.4 2694.3C1586.1 2691.5 1587.7 2688.6 1589.3 2685.6C1591 2682.7 1592.6 2679.6 1594.2 2676.4C1595.9 2673.2 1597.5 2670 1599.2 2666.5C1600.8 2663 1602.4 2659.4 1604.1 2655.7C1605.7 2651.9 1607.3 2647.9 1609 2643.8C1610.6 2639.6 1612.2 2635.3 1613.9 2630.5C1615.5 2625.8 1617.2 2620.8 1618.8 2615.3C1620.4 2609.9 1622.1 2603.9 1623.7 2597.8C1625.3 2591.6 1627 2585 1628.6 2578C1630.3 2571.1 1631.9 2563.7 1633.5 2555.7C1635.2 2547.6 1636.8 2538.8 1638.4 2529.4C1640.1 2519.9 1641.7 2509.6 1643.4 2498.6C1645 2487.5 1646.6 2475.6 1648.3 2462.8C1649.9 2449.9 1651.5 2435.8 1653.2 2421.1C1654.8 2406.3 1656.4 2390.1 1658.1 2373.8C1659.7 2357.5 1661.4 2340.1 1663 2323.2C1664.6 2306.4 1666.3 2289.1 1667.9 2272.8C1669.5 2256.5 1671.2 2240.9 1672.8 2225.4C1674.5 2209.9 1676.1 2194.8 1677.7 2179.9C1679.4 2165.1 1681 2151 1682.6 2136.3C1684.3 2121.5 1685.9 2106.5 1687.6 2091.3C1689.2 2076.1 1690.8 2059.3 1692.5 2045.2C1694.1 2031 1695.7 2017.9 1697.4 2005.9C1699 1993.9 1700.7 1983.4 1702.3 1972.5C1703.9 1961.7 1705.6 1950 1707.2 1940.7C1708.8 1931.5 1710.5 1921.3 1712.1 1916C1713.7 1910.8 1715.4 1904.6 1717 1904.6C1718.7 1904.6 1720.3 1905.2 1721.9 1906.3C1723.6 1907.4 1725.2 1916.8 1726.8 1925.6C1728.5 1934.3 1730.1 1949.9 1731.8 1967C1733.4 1984.1 1735 2009 1736.7 2034.4C1738.3 2059.7 1739.9 2091.6 1741.6 2121.9C1743.2 2152.3 1744.9 2184.7 1746.5 2216.8C1748.1 2248.9 1749.8 2279.1 1751.4 2314.4C1753 2349.6 1754.7 2391.8 1756.3 2429.9C1757.9 2468 1759.6 2507.3 1761.2 2543C1762.9 2578.7 1764.5 2614.3 1766.1 2644.8C1767.8 2675.3 1769.4 2705.7 1771 2727.8C1772.7 2749.9 1774.3 2770 1776 2782.9C1777.6 2795.9 1779.2 2806.7 1780.9 2813C1782.5 2819.3 1784.1 2824.4 1785.8 2826.7C1787.4 2829.1 1789.1 2830.5 1790.7 2831.4C1792.3 2832.3 1794 2833 1795.6 2833.3C1797.2 2833.7 1798.9 2834 1800.5 2834C1802.1 2834.1 1803.8 2834.1 1805.4 2834.1C1807.1 2834.1 1808.7 2834.1 1810.3 2834.2C1811.5 2834.2 1812.7 2834.2 1813.8 2834.2C1819.5 2834.2 1825.1 2834.2 1830.7 2834.2C1836.3 2834.3 1841.9 2834.3 1847.5 2834.3C1853.1 2834.3 1858.7 2834.3 1864.4 2834.3C1870 2834.4 1875.6 2834.4 1881.2 2834.4C1886.8 2834.4 1892.4 2834.4 1898 2834.5C1903.6 2834.5 1909.3 2834.5 1914.9 2834.5C1920.5 2834.5 1926.1 2834.5 1931.7 2834.5C1937.3 2834.6 1942.9 2834.6 1948.6 2834.6C1954.2 2834.6 1959.8 2834.6 1965.4 2834.6C1971 2834.6 1976.6 2834.6 1982.2 2834.6C1987.8 2834.7 1993.5 2834.7 1999.1 2834.7C2004.7 2834.7 2010.3 2834.7 2015.9 2834.7C2021.5 2834.7 2027.1 2834.7 2032.7 2834.7C2038.4 2834.7 2044 2834.7 2049.6 2834.7C2055.2 2834.8 2060.8 2834.8 2066.4 2834.8C2072 2834.8 2077.6 2834.8 2083.3 2834.8C2088.9 2834.8 2094.5 2834.8 2100.1 2834.8C2105.7 2834.8 2111.3 2834.8 2116.9 2834.8C2122.6 2834.8 2128.2 2834.8 2133.8 2834.8C2139.4 2834.8 2145 2834.8 2150.6 2834.8C2156.2 2834.8 2161.8 2834.8 2167.5 2834.8C2173.1 2834.8 2178.7 2834.8 2184.3 2834.8C2189.9 2834.8 2195.5 2834.9 2201.1 2834.9C2206.7 2834.9 2212.4 2834.9 2218 2834.9C2223.6 2834.9 2229.2 2834.9 2234.8 2834.9C2240.4 2834.9 2246 2834.9 2251.6 2834.9C2257.3 2834.9 2262.9 2834.9 2268.5 2834.9C2274.1 2834.9 2279.7 2834.9 2285.3 2834.9C2290.9 2834.9 2296.5 2834.9 2302.2 2834.9C2307.8 2834.9 2313.4 2834.9 2319 2834.9" fill="none" stroke="#8a8a8a" stroke-width="9.8" stroke-linecap="round" stroke-linejoin="round" stroke-dasharray="18.9 19.5"/>
<path d="M410.6 2835.2C424.7 2835.2 438.7 2835.2 452.7 2835.2C466.8 2835.2 480.8 2835.1 494.8 2835.1C508.9 2835.1 522.9 2835.1 536.9 2835.1C551 2835 565 2835 579 2835C593 2834.9 607.1 2834.9 621.1 2834.9C635.1 2834.9 649.2 2834.8 663.2 2834.8C677.2 2834.8 691.3 2834.8 705.3 2834.7C719.3 2834.7 733.4 2834.7 747.4 2834.7C761.4 2834.6 775.5 2834.6 789.5 2834.6C803.5 2834.5 817.6 2834.5 831.6 2834.4C845.6 2834.4 859.7 2834.4 873.7 2834.3C887.7 2834.2 901.8 2834.2 915.8 2834.1C929.8 2834 943.9 2833.9 957.9 2833.7C971.9 2833.5 985.9 2833.3 1000 2833C1003.3 2832.9 1006.5 2832.8 1009.8 2832.7C1013.1 2832.6 1016.3 2832.5 1019.6 2832.4C1022.9 2832.2 1026.2 2832.1 1029.4 2831.9C1032.7 2831.8 1036 2831.6 1039.3 2831.4C1042.5 2831.2 1045.8 2831 1049.1 2830.7C1052.4 2830.4 1055.6 2830 1058.9 2829.5C1062.2 2829.1 1065.5 2828.4 1068.7 2827.8C1072 2827.2 1075.3 2826.5 1078.6 2826C1081.8 2825.5 1085.1 2825.1 1088.4 2824.7C1091.7 2824.4 1094.9 2824.1 1098.2 2823.8C1101.5 2823.6 1104.8 2823.3 1108 2823.1C1111.3 2822.8 1114.6 2822.6 1117.8 2822.3C1121.1 2822.1 1124.4 2821.8 1127.7 2821.6C1130.9 2821.3 1134.2 2821.1 1137.5 2820.9C1140.8 2820.7 1144 2820.5 1147.3 2820.3C1150.6 2820 1153.9 2819.8 1157.1 2819.4C1160.4 2819.1 1163.7 2818.8 1167 2818.1C1170.2 2817.5 1173.5 2816.4 1176.8 2814.9C1180.1 2813.4 1183.3 2810.6 1186.6 2807.7C1189.9 2804.7 1193.2 2799.4 1196.4 2796.1C1198.1 2794.5 1199.7 2793.1 1201.3 2791.7C1203 2790.4 1204.6 2789.2 1206.3 2788C1207.9 2786.8 1209.5 2785.6 1211.2 2784.5C1212.8 2783.3 1214.4 2782.1 1216.1 2781C1217.7 2779.8 1219.3 2778.7 1221 2777.6C1222.6 2776.5 1224.3 2775.4 1225.9 2774.2C1227.5 2773 1229.2 2771.8 1230.8 2770.5C1232.4 2769.1 1234.1 2767.6 1235.7 2766.1C1237.4 2764.6 1239 2762.9 1240.6 2761.5C1242.3 2760.2 1243.9 2758.9 1245.5 2757.8C1247.2 2756.7 1248.8 2755.7 1250.5 2754.8C1252.1 2754 1253.7 2753.1 1255.4 2752.7C1257 2752.2 1258.6 2751.7 1260.3 2751.7C1261.9 2751.7 1263.5 2751.7 1265.2 2751.7C1266.8 2751.7 1268.5 2751.9 1270.1 2752C1271.7 2752.1 1273.4 2752.2 1275 2752.4C1276.6 2752.5 1278.3 2752.6 1279.9 2752.8C1281.6 2753 1283.2 2753.2 1284.8 2753.5C1286.5 2753.8 1288.1 2754.2 1289.7 2754.7C1291.4 2755.3 1293 2756.4 1294.7 2757.4C1296.3 2758.5 1297.9 2760.1 1299.6 2761.4C1301.2 2762.7 1302.8 2764.1 1304.5 2765.3C1306.1 2766.6 1307.8 2767.7 1309.4 2768.9C1311 2770.1 1312.7 2771.2 1314.3 2772.4C1315.9 2773.5 1317.6 2774.7 1319.2 2775.9C1320.8 2777.2 1322.5 2778.5 1324.1 2779.9C1325.8 2781.2 1327.4 2782.8 1329 2784.2C1330.7 2785.7 1332.3 2787.3 1333.9 2788.5C1335.6 2789.7 1337.2 2790.9 1338.9 2791.7C1340.5 2792.6 1342.1 2793.3 1343.8 2793.8C1345.4 2794.4 1347 2794.9 1348.7 2795.3C1350.3 2795.8 1352 2796.1 1353.6 2796.6C1355.2 2797 1356.9 2797.4 1358.5 2797.9C1360.1 2798.4 1361.8 2798.9 1363.4 2799.4C1365 2799.9 1366.7 2800.4 1368.3 2800.9C1370 2801.4 1371.6 2801.9 1373.2 2802.3C1374.9 2802.7 1376.5 2803.2 1378.1 2803.6C1379.8 2804 1381.4 2804.4 1383.1 2804.8C1384.7 2805.1 1386.3 2805.5 1388 2805.8C1389.6 2806.1 1391.2 2806.4 1392.9 2806.6C1394.5 2806.8 1396.2 2807 1397.8 2807.2C1399.4 2807.3 1401.1 2807.5 1402.7 2807.6C1404.3 2807.7 1406 2807.8 1407.6 2807.8C1409.2 2807.9 1410.9 2807.9 1412.5 2807.9C1414.2 2807.9 1415.8 2807.8 1417.4 2807.7C1419.1 2807.6 1420.7 2807.4 1422.3 2807.3C1424 2807.1 1425.6 2806.8 1427.3 2806.6C1428.9 2806.3 1430.5 2806 1432.2 2805.7C1433.8 2805.3 1435.4 2804.8 1437.1 2804.3C1438.7 2803.8 1440.4 2803.2 1442 2802.5C1443.6 2801.9 1445.3 2801.2 1446.9 2800.4C1448.5 2799.7 1450.2 2798.9 1451.8 2798C1453.5 2797.2 1455.1 2796.2 1456.7 2795.2C1458.4 2794.2 1460 2793.1 1461.6 2792.1C1463.3 2791 1464.9 2790 1466.5 2788.9C1468.2 2787.9 1469.8 2786.9 1471.5 2785.9C1473.1 2784.9 1474.7 2783.9 1476.4 2782.9C1478 2781.9 1479.6 2780.9 1481.3 2779.9C1482.9 2778.9 1484.6 2777.9 1486.2 2776.9C1487.8 2776 1489.5 2775 1491.1 2774C1492.7 2773 1494.4 2772.1 1496 2771.1C1497.7 2770.1 1499.3 2769.1 1500.9 2768.1C1502.6 2767.1 1504.2 2766 1505.8 2765C1507.5 2763.9 1509.1 2762.9 1510.7 2761.8C1512.4 2760.7 1514 2759.6 1515.7 2758.4C1517.3 2757.3 1518.9 2756.1 1520.6 2754.8C1522.2 2753.5 1523.8 2752.2 1525.5 2750.8C1527.1 2749.4 1528.8 2748 1530.4 2746.5C1532 2745 1533.7 2743.4 1535.3 2741.8C1536.9 2740.2 1538.6 2738.6 1540.2 2736.9C1541.9 2735.3 1543.5 2733.6 1545.1 2731.8C1546.8 2730.1 1548.4 2728.3 1550 2726.4C1551.7 2724.6 1553.3 2722.7 1554.9 2720.8C1556.6 2718.9 1558.2 2716.9 1559.9 2714.9C1561.5 2712.9 1563.1 2710.9 1564.8 2708.8C1566.4 2706.8 1568 2704.6 1569.7 2702.5C1571.3 2700.3 1573 2698 1574.6 2695.7C1576.2 2693.4 1577.9 2691 1579.5 2688.6C1581.1 2686.2 1582.8 2683.6 1584.4 2681C1586.1 2678.5 1587.7 2675.8 1589.3 2673C1591 2670.3 1592.6 2667.4 1594.2 2664.4C1595.9 2661.4 1597.5 2658.3 1599.2 2655C1600.8 2651.7 1602.4 2648.2 1604.1 2644.9C1605.7 2641.5 1607.3 2638 1609 2634.7C1610.6 2631.4 1612.2 2628.2 1613.9 2625.1C1615.5 2622 1617.2 2619 1618.8 2616C1620.4 2613.1 1622.1 2610.1 1623.7 2607.2C1625.3 2604.3 1627 2601.4 1628.6 2598.6C1630.3 2595.7 1631.9 2592.9 1633.5 2590.2C1635.2 2587.5 1636.8 2585 1638.4 2582.3C1640.1 2579.6 1641.7 2577 1643.4 2574C1645 2571 1646.6 2567.9 1648.3 2564.2C1649.9 2560.5 1651.5 2556.2 1653.2 2551.5C1654.8 2546.8 1656.4 2541.2 1658.1 2535.8C1659.7 2530.4 1661.4 2524.6 1663 2518.9C1664.6 2513.2 1666.3 2507.6 1667.9 2501.4C1669.5 2495.3 1671.2 2488.9 1672.8 2481.9C1674.5 2474.8 1676.1 2466.8 1677.7 2458.8C1679.4 2450.9 1681 2442.3 1682.6 2434C1684.3 2425.7 1685.9 2417.5 1687.6 2409.2C1689.2 2400.9 1690.8 2392.2 1692.5 2384.2C1694.1 2376.1 1695.7 2367.8 1697.4 2361C1699 2354.1 1700.7 2347.6 1702.3 2342.7C1703.9 2337.7 1705.6 2333.3 1707.2 2330.1C1708.8 2327 1710.5 2323.4 1712.1 2322.7C1713.7 2322 1715.4 2321.5 1717 2321.5C1718.7 2321.5 1720.3 2325.3 1721.9 2328.3C1723.6 2331.3 1725.2 2336.3 1726.8 2342.1C1728.5 2347.9 1730.1 2356.2 1731.8 2365.3C1733.4 2374.3 1735 2386.2 1736.7 2398C1738.3 2409.9 1739.9 2422.6 1741.6 2437C1743.2 2451.4 1744.9 2468.5 1746.5 2485.2C1748.1 2501.9 1749.8 2520.3 1751.4 2537.3C1753 2554.4 1754.7 2571.7 1756.3 2587.4C1757.9 2603.2 1759.6 2617.5 1761.2 2632.1C1762.9 2646.7 1764.5 2660.7 1766.1 2675.1C1767.8 2689.4 1769.4 2704.5 1771 2718.1C1772.7 2731.7 1774.3 2745.8 1776 2756.8C1777.6 2767.8 1779.2 2778.4 1780.9 2785.6C1782.5 2792.7 1784.1 2798.8 1785.8 2802.7C1787.4 2806.5 1789.1 2809.6 1790.7 2811.5C1792.3 2813.3 1794 2814.6 1795.6 2815.5C1797.2 2816.4 1798.9 2817.1 1800.5 2817.6C1802.1 2818 1803.8 2818.4 1805.4 2818.7C1807.1 2819 1808.7 2819.2 1810.3 2819.4C1811.5 2819.6 1812.7 2819.7 1813.8 2819.8C1819.5 2820.4 1825.1 2820.9 1830.7 2821.3C1836.3 2821.6 1841.9 2821.9 1847.5 2822.2C1853.1 2822.5 1858.7 2822.9 1864.4 2823.2C1870 2823.5 1875.6 2823.8 1881.2 2824C1886.8 2824.3 1892.4 2824.5 1898 2824.8C1903.6 2825 1909.3 2825.2 1914.9 2825.5C1920.5 2825.7 1926.1 2825.9 1931.7 2826C1937.3 2826.2 1942.9 2826.4 1948.6 2826.5C1954.2 2826.7 1959.8 2826.8 1965.4 2827C1971 2827.1 1976.6 2827.2 1982.2 2827.3C1987.8 2827.5 1993.5 2827.6 1999.1 2827.7C2004.7 2827.8 2010.3 2828 2015.9 2828.1C2021.5 2828.2 2027.1 2828.4 2032.7 2828.5C2038.4 2828.7 2044 2828.8 2049.6 2829C2055.2 2829.1 2060.8 2829.2 2066.4 2829.4C2072 2829.5 2077.6 2829.6 2083.3 2829.8C2088.9 2829.9 2094.5 2830 2100.1 2830.1C2105.7 2830.2 2111.3 2830.3 2116.9 2830.4C2122.6 2830.5 2128.2 2830.6 2133.8 2830.7C2139.4 2830.8 2145 2830.9 2150.6 2831C2156.2 2831 2161.8 2831.1 2167.5 2831.2C2173.1 2831.3 2178.7 2831.4 2184.3 2831.5C2189.9 2831.6 2195.5 2831.7 2201.1 2831.7C2206.7 2831.8 2212.4 2831.9 2218 2832C2223.6 2832.1 2229.2 2832.1 2234.8 2832.2C2240.4 2832.3 2246 2832.3 2251.6 2832.4C2257.3 2832.5 2262.9 2832.5 2268.5 2832.6C2274.1 2832.6 2279.7 2832.7 2285.3 2832.7C2290.9 2832.8 2296.5 2832.8 2302.2 2832.9C2307.8 2832.9 2313.4 2832.9 2319 2833" fill="none" stroke="#fb7f2a" stroke-width="9.8" stroke-linecap="round" stroke-linejoin="round" />
<path d="M410.6 2835.2C424.7 2834.1 438.7 2833.2 452.7 2833.2C466.8 2833.2 480.8 2833.3 494.8 2833.3C508.9 2833.4 522.9 2833.7 536.9 2833.7C551 2833.7 565 2833.7 579 2833.7C593 2833.7 607.1 2833.7 621.1 2833.7C635.1 2833.7 649.2 2833.7 663.2 2833.7C677.2 2833.7 691.3 2833.7 705.3 2833.7C719.3 2833.7 733.4 2833.7 747.4 2833.7C761.4 2833.7 775.5 2833.7 789.5 2833.7C803.5 2833.7 817.6 2833.7 831.6 2833.7C845.6 2833.7 859.7 2833.7 873.7 2833.7C887.7 2833.7 901.8 2833.7 915.8 2833.7C929.8 2833.7 943.9 2833.5 957.9 2833.3C971.9 2833.1 985.9 2832.7 1000 2832.2C1003.3 2832.1 1006.5 2831.9 1009.8 2831.8C1013.1 2831.6 1016.3 2831.3 1019.6 2831.1C1022.9 2830.8 1026.2 2830.5 1029.4 2830.2C1032.7 2829.9 1036 2829.6 1039.3 2829.3C1042.5 2828.9 1045.8 2828.6 1049.1 2828.3C1052.4 2827.9 1055.6 2827.5 1058.9 2827C1062.2 2826.6 1065.5 2826.1 1068.7 2825.6C1072 2825.1 1075.3 2824.6 1078.6 2824.2C1081.8 2823.8 1085.1 2823.4 1088.4 2823.1C1091.7 2822.7 1094.9 2822.4 1098.2 2822.1C1101.5 2821.8 1104.8 2821.6 1108 2821.3C1111.3 2821 1114.6 2820.7 1117.8 2820.4C1121.1 2820.1 1124.4 2819.7 1127.7 2819.4C1130.9 2819.1 1134.2 2818.9 1137.5 2818.6C1140.8 2818.2 1144 2817.9 1147.3 2817.5C1150.6 2817.2 1153.9 2816.8 1157.1 2816.2C1160.4 2815.6 1163.7 2814.9 1167 2813.9C1170.2 2812.8 1173.5 2811 1176.8 2809.1C1180.1 2807.3 1183.3 2804.9 1186.6 2802.2C1189.9 2799.5 1193.2 2795.8 1196.4 2792.4C1198.1 2790.7 1199.7 2789 1201.3 2787.2C1203 2785.5 1204.6 2783.6 1206.3 2781.9C1207.9 2780.3 1209.5 2778.6 1211.2 2777.2C1212.8 2775.9 1214.4 2774.6 1216.1 2773.5C1217.7 2772.4 1219.3 2771.5 1221 2770.5C1222.6 2769.6 1224.3 2768.7 1225.9 2767.8C1227.5 2766.9 1229.2 2766 1230.8 2765C1232.4 2764.1 1234.1 2763 1235.7 2762C1237.4 2761 1239 2759.9 1240.6 2759C1242.3 2758.1 1243.9 2757.3 1245.5 2756.6C1247.2 2755.8 1248.8 2755.2 1250.5 2754.6C1252.1 2754 1253.7 2753.4 1255.4 2753.1C1257 2752.8 1258.6 2752.4 1260.3 2752.4C1261.9 2752.4 1263.5 2752.4 1265.2 2752.4C1266.8 2752.4 1268.5 2752.5 1270.1 2752.6C1271.7 2752.7 1273.4 2752.8 1275 2752.9C1276.6 2753 1278.3 2753.1 1279.9 2753.3C1281.6 2753.4 1283.2 2753.6 1284.8 2753.8C1286.5 2753.9 1288.1 2754.1 1289.7 2754.4C1291.4 2754.7 1293 2755.2 1294.7 2755.7C1296.3 2756.3 1297.9 2757 1299.6 2757.8C1301.2 2758.5 1302.8 2759.4 1304.5 2760.2C1306.1 2761 1307.8 2761.8 1309.4 2762.6C1311 2763.3 1312.7 2764 1314.3 2764.7C1315.9 2765.4 1317.6 2766.1 1319.2 2766.8C1320.8 2767.5 1322.5 2768.2 1324.1 2768.9C1325.8 2769.6 1327.4 2770.3 1329 2770.9C1330.7 2771.6 1332.3 2772.3 1333.9 2773C1335.6 2773.7 1337.2 2774.4 1338.9 2775.1C1340.5 2775.9 1342.1 2776.6 1343.8 2777.3C1345.4 2777.9 1347 2778.6 1348.7 2779.1C1350.3 2779.7 1352 2780.1 1353.6 2780.5C1355.2 2780.8 1356.9 2781.1 1358.5 2781.3C1360.1 2781.5 1361.8 2781.8 1363.4 2781.9C1365 2782 1366.7 2782.1 1368.3 2782.1C1370 2782.1 1371.6 2781.7 1373.2 2781.4C1374.9 2781.1 1376.5 2780.4 1378.1 2779.8C1379.8 2779.2 1381.4 2778.5 1383.1 2777.7C1384.7 2777 1386.3 2776.2 1388 2775.2C1389.6 2774.3 1391.2 2773.2 1392.9 2772.1C1394.5 2771 1396.2 2769.9 1397.8 2768.7C1399.4 2767.5 1401.1 2766.3 1402.7 2765C1404.3 2763.7 1406 2762.4 1407.6 2760.9C1409.2 2759.5 1410.9 2758 1412.5 2756.4C1414.2 2754.7 1415.8 2752.9 1417.4 2751.1C1419.1 2749.2 1420.7 2747.2 1422.3 2745.1C1424 2743.1 1425.6 2741 1427.3 2738.9C1428.9 2736.7 1430.5 2734.6 1432.2 2732.3C1433.8 2730.1 1435.4 2727.8 1437.1 2725.5C1438.7 2723.2 1440.4 2720.9 1442 2718.6C1443.6 2716.3 1445.3 2714 1446.9 2711.7C1448.5 2709.3 1450.2 2707 1451.8 2704.4C1453.5 2701.9 1455.1 2699.2 1456.7 2696.3C1458.4 2693.5 1460 2690.3 1461.6 2687C1463.3 2683.8 1464.9 2680.2 1466.5 2676.5C1468.2 2672.9 1469.8 2668.8 1471.5 2664.8C1473.1 2660.8 1474.7 2656.5 1476.4 2652.3C1478 2648.1 1479.6 2644 1481.3 2639.9C1482.9 2635.7 1484.6 2631.6 1486.2 2627.4C1487.8 2623.2 1489.5 2619 1491.1 2614.7C1492.7 2610.4 1494.4 2606.1 1496 2601.7C1497.7 2597.2 1499.3 2592.7 1500.9 2588C1502.6 2583.4 1504.2 2578.6 1505.8 2573.7C1507.5 2568.8 1509.1 2563.7 1510.7 2558.6C1512.4 2553.4 1514 2548.2 1515.7 2542.8C1517.3 2537.5 1518.9 2532 1520.6 2526.5C1522.2 2521 1523.8 2515.4 1525.5 2509.8C1527.1 2504.1 1528.8 2498.4 1530.4 2492.6C1532 2486.9 1533.7 2481 1535.3 2475.1C1536.9 2469.1 1538.6 2463.1 1540.2 2457C1541.9 2450.9 1543.5 2444.8 1545.1 2438.7C1546.8 2432.6 1548.4 2426.5 1550 2420.3C1551.7 2414.2 1553.3 2407.9 1554.9 2401.7C1556.6 2395.4 1558.2 2388.9 1559.9 2382.9C1561.5 2377 1563.1 2371 1564.8 2365.8C1566.4 2360.6 1568 2355.9 1569.7 2351.5C1571.3 2347.1 1573 2343.1 1574.6 2339.3C1576.2 2335.5 1577.9 2332 1579.5 2328.7C1581.1 2325.3 1582.8 2322 1584.4 2319.1C1586.1 2316.3 1587.7 2313.3 1589.3 2311.5C1591 2309.6 1592.6 2307.9 1594.2 2307C1595.9 2306.2 1597.5 2305.3 1599.2 2305.3C1600.8 2305.3 1602.4 2306 1604.1 2306.7C1605.7 2307.5 1607.3 2309.3 1609 2311.3C1610.6 2313.4 1612.2 2317 1613.9 2321.1C1615.5 2325.3 1617.2 2331.7 1618.8 2338.4C1620.4 2345.1 1622.1 2353.4 1623.7 2362.7C1625.3 2372 1627 2382.6 1628.6 2395.1C1630.3 2407.6 1631.9 2423.7 1633.5 2440C1635.2 2456.3 1636.8 2474.2 1638.4 2493.8C1640.1 2513.5 1641.7 2536.4 1643.4 2559C1645 2581.5 1646.6 2607.8 1648.3 2629.3C1649.9 2650.9 1651.5 2672.1 1653.2 2689.1C1654.8 2706.1 1656.4 2721 1658.1 2733.8C1659.7 2746.5 1661.4 2758.2 1663 2767.1C1664.6 2776.1 1666.3 2783.9 1667.9 2789.7C1669.5 2795.5 1671.2 2800.3 1672.8 2803.9C1674.5 2807.4 1676.1 2810.2 1677.7 2812.3C1679.4 2814.4 1681 2816 1682.6 2817.4C1684.3 2818.7 1685.9 2819.9 1687.6 2820.8C1689.2 2821.8 1690.8 2822.6 1692.5 2823.4C1694.1 2824.1 1695.7 2824.8 1697.4 2825.4C1699 2826 1700.7 2826.6 1702.3 2827.1C1703.9 2827.6 1705.6 2828.1 1707.2 2828.4C1708.8 2828.8 1710.5 2829.1 1712.1 2829.3C1713.7 2829.5 1715.4 2829.7 1717 2829.8C1718.7 2830 1720.3 2830.1 1721.9 2830.2C1723.6 2830.4 1725.2 2830.5 1726.8 2830.6C1728.5 2830.7 1730.1 2830.8 1731.8 2830.8C1733.4 2830.9 1735 2831 1736.7 2831.1C1738.3 2831.1 1739.9 2831.2 1741.6 2831.2C1743.2 2831.3 1744.9 2831.3 1746.5 2831.4C1748.1 2831.4 1749.8 2831.5 1751.4 2831.5C1753 2831.5 1754.7 2831.6 1756.3 2831.6C1757.9 2831.6 1759.6 2831.6 1761.2 2831.7C1762.9 2831.7 1764.5 2831.7 1766.1 2831.8C1767.8 2831.8 1769.4 2831.8 1771 2831.8C1772.7 2831.9 1774.3 2831.9 1776 2831.9C1777.6 2831.9 1779.2 2831.9 1780.9 2832C1782.5 2832 1784.1 2832 1785.8 2832C1787.4 2832 1789.1 2832 1790.7 2832.1C1792.3 2832.1 1794 2832.1 1795.6 2832.1C1797.2 2832.1 1798.9 2832.1 1800.5 2832.1C1802.1 2832.2 1803.8 2832.2 1805.4 2832.2C1807.1 2832.2 1808.7 2832.2 1810.3 2832.2C1811.5 2832.2 1812.7 2832.2 1813.8 2832.2C1819.5 2832.2 1825.1 2832.3 1830.7 2832.3C1836.3 2832.3 1841.9 2832.3 1847.5 2832.3C1853.1 2832.3 1858.7 2832.4 1864.4 2832.4C1870 2832.4 1875.6 2832.4 1881.2 2832.4C1886.8 2832.4 1892.4 2832.4 1898 2832.5C1903.6 2832.5 1909.3 2832.5 1914.9 2832.5C1920.5 2832.5 1926.1 2832.5 1931.7 2832.5C1937.3 2832.6 1942.9 2832.6 1948.6 2832.6C1954.2 2832.6 1959.8 2832.6 1965.4 2832.6C1971 2832.6 1976.6 2832.6 1982.2 2832.7C1987.8 2832.7 1993.5 2832.7 1999.1 2832.7C2004.7 2832.7 2010.3 2832.7 2015.9 2832.7C2021.5 2832.7 2027.1 2832.7 2032.7 2832.8C2038.4 2832.8 2044 2832.8 2049.6 2832.8C2055.2 2832.8 2060.8 2832.8 2066.4 2832.8C2072 2832.8 2077.6 2832.8 2083.3 2832.8C2088.9 2832.8 2094.5 2832.8 2100.1 2832.8C2105.7 2832.9 2111.3 2832.9 2116.9 2832.9C2122.6 2832.9 2128.2 2832.9 2133.8 2832.9C2139.4 2832.9 2145 2832.9 2150.6 2832.9C2156.2 2832.9 2161.8 2832.9 2167.5 2832.9C2173.1 2832.9 2178.7 2832.9 2184.3 2832.9C2189.9 2832.9 2195.5 2832.9 2201.1 2832.9C2206.7 2832.9 2212.4 2832.9 2218 2832.9C2223.6 2832.9 2229.2 2833 2234.8 2833C2240.4 2833 2246 2833 2251.6 2833C2257.3 2833 2262.9 2833 2268.5 2833C2274.1 2833 2279.7 2833 2285.3 2833C2290.9 2833 2296.5 2833 2302.2 2833C2307.8 2833 2313.4 2833 2319 2833" fill="none" stroke="#ffc000" stroke-width="9.8" stroke-linecap="round" stroke-linejoin="round" stroke-dasharray="18.9 19.5"/>
<path d="M410.6 2834.9C424.7 2834.9 438.7 2834.9 452.7 2834.9C466.8 2834.9 480.8 2834.9 494.8 2834.8C508.9 2834.8 522.9 2834.8 536.9 2834.8C551 2834.8 565 2834.8 579 2834.8C593 2834.8 607.1 2834.8 621.1 2834.7C635.1 2834.7 649.2 2834.7 663.2 2834.7C677.2 2834.7 691.3 2834.6 705.3 2834.6C719.3 2834.6 733.4 2834.6 747.4 2834.5C761.4 2834.5 775.5 2834.5 789.5 2834.5C803.5 2834.4 817.6 2834.4 831.6 2834.4C845.6 2834.3 859.7 2834.3 873.7 2834.2C887.7 2834.2 901.8 2834.2 915.8 2834.1C929.8 2834.1 943.9 2834 957.9 2834C971.9 2833.9 985.9 2833.9 1000 2833.8C1003.3 2833.8 1006.5 2833.8 1009.8 2833.8C1013.1 2833.8 1016.3 2833.8 1019.6 2833.8C1022.9 2833.7 1026.2 2833.7 1029.4 2833.7C1032.7 2833.7 1036 2833.7 1039.3 2833.7C1042.5 2833.7 1045.8 2833.7 1049.1 2833.6C1052.4 2833.6 1055.6 2833.6 1058.9 2833.6C1062.2 2833.6 1065.5 2833.6 1068.7 2833.6C1072 2833.5 1075.3 2833.5 1078.6 2833.5C1081.8 2833.5 1085.1 2833.5 1088.4 2833.5C1091.7 2833.5 1094.9 2833.5 1098.2 2833.4C1101.5 2833.4 1104.8 2833.4 1108 2833.4C1111.3 2833.4 1114.6 2833.4 1117.8 2833.3C1121.1 2833.3 1124.4 2833.3 1127.7 2833.3C1130.9 2833.3 1134.2 2833.3 1137.5 2833.3C1140.8 2833.2 1144 2833.2 1147.3 2833.2C1150.6 2833.2 1153.9 2833.2 1157.1 2833.2C1160.4 2833.2 1163.7 2833.1 1167 2833.1C1170.2 2833.1 1173.5 2833.1 1176.8 2833.1C1180.1 2833.1 1183.3 2833 1186.6 2833C1189.9 2833 1193.2 2833 1196.4 2833C1198.1 2833 1199.7 2833 1201.3 2832.9C1203 2832.9 1204.6 2832.9 1206.3 2832.9C1207.9 2832.9 1209.5 2832.9 1211.2 2832.9C1212.8 2832.9 1214.4 2832.9 1216.1 2832.8C1217.7 2832.8 1219.3 2832.8 1221 2832.8C1222.6 2832.8 1224.3 2832.8 1225.9 2832.7C1227.5 2832.7 1229.2 2832.7 1230.8 2832.7C1232.4 2832.6 1234.1 2832.6 1235.7 2832.6C1237.4 2832.6 1239 2832.5 1240.6 2832.5C1242.3 2832.5 1243.9 2832.4 1245.5 2832.4C1247.2 2832.3 1248.8 2832.3 1250.5 2832.3C1252.1 2832.2 1253.7 2832.1 1255.4 2832C1257 2831.9 1258.6 2831.7 1260.3 2831.5C1261.9 2831.3 1263.5 2831.1 1265.2 2830.8C1266.8 2830.6 1268.5 2830.3 1270.1 2830.1C1271.7 2829.9 1273.4 2829.7 1275 2829.5C1276.6 2829.4 1278.3 2829.2 1279.9 2829.1C1281.6 2828.9 1283.2 2828.8 1284.8 2828.7C1286.5 2828.6 1288.1 2828.5 1289.7 2828.4C1291.4 2828.2 1293 2828.1 1294.7 2827.9C1296.3 2827.8 1297.9 2827.6 1299.6 2827.4C1301.2 2827.2 1302.8 2827 1304.5 2826.7C1306.1 2826.4 1307.8 2825.9 1309.4 2825.4C1311 2824.9 1312.7 2824.2 1314.3 2823.6C1315.9 2822.9 1317.6 2822.1 1319.2 2821.4C1320.8 2820.7 1322.5 2819.9 1324.1 2819.1C1325.8 2818.3 1327.4 2817.5 1329 2816.7C1330.7 2815.8 1332.3 2814.9 1333.9 2814C1335.6 2813.1 1337.2 2812.1 1338.9 2811.2C1340.5 2810.2 1342.1 2809.2 1343.8 2808.2C1345.4 2807.2 1347 2806.2 1348.7 2805.2C1350.3 2804.2 1352 2803.1 1353.6 2802.2C1355.2 2801.2 1356.9 2800.3 1358.5 2799.5C1360.1 2798.6 1361.8 2797.8 1363.4 2797.1C1365 2796.3 1366.7 2795.6 1368.3 2794.9C1370 2794.2 1371.6 2793.5 1373.2 2792.8C1374.9 2792.2 1376.5 2791.5 1378.1 2790.9C1379.8 2790.3 1381.4 2789.8 1383.1 2789.2C1384.7 2788.7 1386.3 2788.1 1388 2787.6C1389.6 2787.1 1391.2 2786.6 1392.9 2786.1C1394.5 2785.6 1396.2 2785.1 1397.8 2784.6C1399.4 2784.1 1401.1 2783.7 1402.7 2783.2C1404.3 2782.8 1406 2782.3 1407.6 2781.8C1409.2 2781.4 1410.9 2780.9 1412.5 2780.5C1414.2 2780.1 1415.8 2779.7 1417.4 2779.2C1419.1 2778.8 1420.7 2778.4 1422.3 2777.9C1424 2777.4 1425.6 2776.9 1427.3 2776.4C1428.9 2775.8 1430.5 2775.2 1432.2 2774.6C1433.8 2774 1435.4 2773.3 1437.1 2772.6C1438.7 2771.9 1440.4 2771.2 1442 2770.4C1443.6 2769.6 1445.3 2768.7 1446.9 2767.8C1448.5 2766.8 1450.2 2765.8 1451.8 2764.8C1453.5 2763.7 1455.1 2762.6 1456.7 2761.5C1458.4 2760.4 1460 2759.3 1461.6 2758.1C1463.3 2757 1464.9 2755.8 1466.5 2754.6C1468.2 2753.4 1469.8 2752.2 1471.5 2751.1C1473.1 2749.9 1474.7 2748.8 1476.4 2747.7C1478 2746.6 1479.6 2745.5 1481.3 2744.4C1482.9 2743.3 1484.6 2742.3 1486.2 2741.1C1487.8 2739.9 1489.5 2738.7 1491.1 2737.5C1492.7 2736.2 1494.4 2734.9 1496 2733.6C1497.7 2732.3 1499.3 2730.9 1500.9 2729.6C1502.6 2728.2 1504.2 2726.9 1505.8 2725.5C1507.5 2724.2 1509.1 2722.8 1510.7 2721.4C1512.4 2720 1514 2718.6 1515.7 2717.1C1517.3 2715.6 1518.9 2713.9 1520.6 2712.2C1522.2 2710.5 1523.8 2708.6 1525.5 2706.8C1527.1 2705 1528.8 2703.1 1530.4 2701.2C1532 2699.4 1533.7 2697.6 1535.3 2695.7C1536.9 2693.9 1538.6 2692.1 1540.2 2690.1C1541.9 2688.1 1543.5 2686.1 1545.1 2684C1546.8 2681.8 1548.4 2679.5 1550 2677.3C1551.7 2675.2 1553.3 2673 1554.9 2671C1556.6 2669 1558.2 2667.3 1559.9 2665.4C1561.5 2663.6 1563.1 2661.9 1564.8 2660C1566.4 2658.1 1568 2656 1569.7 2653.9C1571.3 2651.8 1573 2649.5 1574.6 2647.5C1576.2 2645.4 1577.9 2643.4 1579.5 2641.6C1581.1 2639.8 1582.8 2638.3 1584.4 2636.6C1586.1 2634.9 1587.7 2633.3 1589.3 2631.5C1591 2629.6 1592.6 2627.6 1594.2 2625.5C1595.9 2623.5 1597.5 2621.2 1599.2 2619C1600.8 2616.9 1602.4 2614.7 1604.1 2612.6C1605.7 2610.6 1607.3 2608.7 1609 2606.6C1610.6 2604.5 1612.2 2602.5 1613.9 2600C1615.5 2597.6 1617.2 2595 1618.8 2591.7C1620.4 2588.5 1622.1 2584.7 1623.7 2580C1625.3 2575.2 1627 2569 1628.6 2562.2C1630.3 2555.3 1631.9 2546.1 1633.5 2537.8C1635.2 2529.4 1636.8 2519.9 1638.4 2512.2C1640.1 2504.5 1641.7 2498.5 1643.4 2491.3C1645 2484.1 1646.6 2477.1 1648.3 2469.1C1649.9 2461.1 1651.5 2452 1653.2 2443.1C1654.8 2434.2 1656.4 2424.8 1658.1 2415.7C1659.7 2406.6 1661.4 2397.4 1663 2388.4C1664.6 2379.4 1666.3 2370.5 1667.9 2361.7C1669.5 2352.8 1671.2 2344.2 1672.8 2335.3C1674.5 2326.4 1676.1 2317.3 1677.7 2308.1C1679.4 2298.8 1681 2289.3 1682.6 2279.9C1684.3 2270.6 1685.9 2261.3 1687.6 2252.2C1689.2 2243.2 1690.8 2233 1692.5 2225.6C1694.1 2218.2 1695.7 2210.8 1697.4 2206.4C1699 2201.9 1700.7 2197.8 1702.3 2196.3C1703.9 2194.7 1705.6 2193.3 1707.2 2193.3C1708.8 2193.3 1710.5 2195.9 1712.1 2198.9C1713.7 2201.9 1715.4 2211.5 1717 2220.8C1718.7 2230.2 1720.3 2244.4 1721.9 2259.5C1723.6 2274.5 1725.2 2293.9 1726.8 2313.8C1728.5 2333.7 1730.1 2357.4 1731.8 2380.1C1733.4 2402.7 1735 2426.9 1736.7 2449.7C1738.3 2472.6 1739.9 2493.2 1741.6 2517.2C1743.2 2541.2 1744.9 2569.6 1746.5 2594.5C1748.1 2619.3 1749.8 2645.6 1751.4 2666.4C1753 2687.3 1754.7 2706.7 1756.3 2721.6C1757.9 2736.5 1759.6 2749.2 1761.2 2759.1C1762.9 2769 1764.5 2776.3 1766.1 2783.5C1767.8 2790.7 1769.4 2798 1771 2802.9C1772.7 2807.8 1774.3 2811.8 1776 2814.7C1777.6 2817.7 1779.2 2820 1780.9 2821.7C1782.5 2823.4 1784.1 2824.8 1785.8 2825.7C1787.4 2826.6 1789.1 2827.2 1790.7 2827.8C1792.3 2828.4 1794 2828.8 1795.6 2829.3C1797.2 2829.7 1798.9 2830.1 1800.5 2830.3C1802.1 2830.6 1803.8 2830.9 1805.4 2831C1807.1 2831.1 1808.7 2831.2 1810.3 2831.2C1811.5 2831.2 1812.7 2831.2 1813.8 2831.2C1819.5 2831.2 1825.1 2830.8 1830.7 2830.5C1836.3 2830.2 1841.9 2829.6 1847.5 2829.2C1853.1 2828.8 1858.7 2828.4 1864.4 2828.1C1870 2827.8 1875.6 2827.5 1881.2 2827.3C1886.8 2827 1892.4 2826.8 1898 2826.5C1903.6 2826.2 1909.3 2825.8 1914.9 2825.5C1920.5 2825.1 1926.1 2824.7 1931.7 2824.2C1937.3 2823.7 1942.9 2823.1 1948.6 2822.4C1954.2 2821.6 1959.8 2820.6 1965.4 2819.7C1971 2818.8 1976.6 2817.7 1982.2 2816.9C1987.8 2816.1 1993.5 2815.1 1999.1 2814.9C2004.7 2814.7 2010.3 2814.4 2015.9 2814.4C2021.5 2814.4 2027.1 2814.8 2032.7 2815.1C2038.4 2815.4 2044 2815.8 2049.6 2816.2C2055.2 2816.6 2060.8 2816.9 2066.4 2817.3C2072 2817.7 2077.6 2818.1 2083.3 2818.5C2088.9 2819 2094.5 2819.5 2100.1 2820C2105.7 2820.5 2111.3 2821.2 2116.9 2821.7C2122.6 2822.1 2128.2 2822.5 2133.8 2822.9C2139.4 2823.2 2145 2823.5 2150.6 2823.7C2156.2 2824 2161.8 2824.2 2167.5 2824.4C2173.1 2824.6 2178.7 2824.8 2184.3 2824.9C2189.9 2825.1 2195.5 2825.2 2201.1 2825.4C2206.7 2825.6 2212.4 2825.8 2218 2825.9C2223.6 2826.1 2229.2 2826.3 2234.8 2826.4C2240.4 2826.5 2246 2826.7 2251.6 2826.8C2257.3 2826.9 2262.9 2827 2268.5 2827.1C2274.1 2827.2 2279.7 2827.3 2285.3 2827.4C2290.9 2827.5 2296.5 2827.7 2302.2 2827.8C2307.8 2827.8 2313.4 2827.9 2319 2828" fill="none" stroke="#00b4f0" stroke-width="9.8" stroke-linecap="round" stroke-linejoin="round" stroke-dasharray="0.01 19.1"/>
<path d="M410.6 2834.9C424.7 2834.9 438.7 2834.9 452.7 2834.9C466.8 2834.9 480.8 2834.9 494.8 2834.9C508.9 2834.9 522.9 2834.8 536.9 2834.8C551 2834.8 565 2834.8 579 2834.8C593 2834.8 607.1 2834.8 621.1 2834.8C635.1 2834.8 649.2 2834.8 663.2 2834.8C677.2 2834.8 691.3 2834.7 705.3 2834.7C719.3 2834.7 733.4 2834.7 747.4 2834.7C761.4 2834.7 775.5 2834.6 789.5 2834.6C803.5 2834.6 817.6 2834.6 831.6 2834.5C845.6 2834.5 859.7 2834.5 873.7 2834.5C887.7 2834.4 901.8 2834.4 915.8 2834.4C929.8 2834.3 943.9 2834.3 957.9 2834.2C971.9 2834.2 985.9 2834.2 1000 2834.1C1003.3 2834.1 1006.5 2834.1 1009.8 2834.1C1013.1 2834.1 1016.3 2834.1 1019.6 2834.1C1022.9 2834 1026.2 2834 1029.4 2834C1032.7 2834 1036 2834 1039.3 2834C1042.5 2834 1045.8 2834 1049.1 2833.9C1052.4 2833.9 1055.6 2833.9 1058.9 2833.9C1062.2 2833.9 1065.5 2833.9 1068.7 2833.9C1072 2833.9 1075.3 2833.8 1078.6 2833.8C1081.8 2833.8 1085.1 2833.8 1088.4 2833.8C1091.7 2833.8 1094.9 2833.8 1098.2 2833.8C1101.5 2833.7 1104.8 2833.7 1108 2833.7C1111.3 2833.7 1114.6 2833.7 1117.8 2833.7C1121.1 2833.7 1124.4 2833.6 1127.7 2833.6C1130.9 2833.6 1134.2 2833.6 1137.5 2833.6C1140.8 2833.6 1144 2833.5 1147.3 2833.5C1150.6 2833.5 1153.9 2833.5 1157.1 2833.5C1160.4 2833.5 1163.7 2833.5 1167 2833.4C1170.2 2833.4 1173.5 2833.4 1176.8 2833.4C1180.1 2833.4 1183.3 2833.4 1186.6 2833.3C1189.9 2833.3 1193.2 2833.3 1196.4 2833.3C1198.1 2833.3 1199.7 2833.3 1201.3 2833.3C1203 2833.3 1204.6 2833.2 1206.3 2833.2C1207.9 2833.2 1209.5 2833.2 1211.2 2833.2C1212.8 2833.2 1214.4 2833.2 1216.1 2833.2C1217.7 2833.2 1219.3 2833.2 1221 2833.2C1222.6 2833.1 1224.3 2833.1 1225.9 2833.1C1227.5 2833.1 1229.2 2833.1 1230.8 2833.1C1232.4 2833.1 1234.1 2833.1 1235.7 2833.1C1237.4 2833.1 1239 2833.1 1240.6 2833C1242.3 2833 1243.9 2833 1245.5 2833C1247.2 2833 1248.8 2833 1250.5 2833C1252.1 2833 1253.7 2833 1255.4 2832.9C1257 2832.9 1258.6 2832.9 1260.3 2832.8C1261.9 2832.8 1263.5 2832.7 1265.2 2832.7C1266.8 2832.6 1268.5 2832.5 1270.1 2832.4C1271.7 2832.4 1273.4 2832.3 1275 2832.2C1276.6 2832.1 1278.3 2832 1279.9 2831.8C1281.6 2831.7 1283.2 2831.6 1284.8 2831.5C1286.5 2831.3 1288.1 2831.2 1289.7 2831C1291.4 2830.7 1293 2830.5 1294.7 2830.2C1296.3 2829.9 1297.9 2829.6 1299.6 2829.2C1301.2 2828.9 1302.8 2828.6 1304.5 2828.2C1306.1 2827.9 1307.8 2827.5 1309.4 2827.2C1311 2826.9 1312.7 2826.6 1314.3 2826.3C1315.9 2826 1317.6 2825.7 1319.2 2825.5C1320.8 2825.2 1322.5 2824.9 1324.1 2824.6C1325.8 2824.4 1327.4 2824.1 1329 2823.8C1330.7 2823.5 1332.3 2823.2 1333.9 2822.9C1335.6 2822.6 1337.2 2822.2 1338.9 2821.8C1340.5 2821.5 1342.1 2821.1 1343.8 2820.6C1345.4 2820.2 1347 2819.7 1348.7 2819.1C1350.3 2818.4 1352 2817.6 1353.6 2816.8C1355.2 2816 1356.9 2815 1358.5 2814.1C1360.1 2813.1 1361.8 2812.1 1363.4 2811.3C1365 2810.5 1366.7 2809.7 1368.3 2809C1370 2808.3 1371.6 2807.8 1373.2 2807.2C1374.9 2806.6 1376.5 2806.1 1378.1 2805.6C1379.8 2805.1 1381.4 2804.6 1383.1 2804.2C1384.7 2803.7 1386.3 2803.2 1388 2802.8C1389.6 2802.4 1391.2 2802 1392.9 2801.6C1394.5 2801.2 1396.2 2800.8 1397.8 2800.5C1399.4 2800.1 1401.1 2799.7 1402.7 2799.4C1404.3 2799.1 1406 2798.8 1407.6 2798.5C1409.2 2798.2 1410.9 2797.9 1412.5 2797.7C1414.2 2797.4 1415.8 2797.2 1417.4 2797C1419.1 2796.8 1420.7 2796.6 1422.3 2796.3C1424 2796.1 1425.6 2795.9 1427.3 2795.6C1428.9 2795.3 1430.5 2795 1432.2 2794.7C1433.8 2794.4 1435.4 2794 1437.1 2793.6C1438.7 2793.1 1440.4 2792.6 1442 2792.1C1443.6 2791.6 1445.3 2791 1446.9 2790.4C1448.5 2789.8 1450.2 2789.1 1451.8 2788.5C1453.5 2787.8 1455.1 2787.1 1456.7 2786.4C1458.4 2785.7 1460 2785.1 1461.6 2784.4C1463.3 2783.7 1464.9 2783.1 1466.5 2782.4C1468.2 2781.8 1469.8 2781.2 1471.5 2780.5C1473.1 2779.9 1474.7 2779.3 1476.4 2778.7C1478 2778.1 1479.6 2777.5 1481.3 2776.9C1482.9 2776.2 1484.6 2775.6 1486.2 2774.9C1487.8 2774.2 1489.5 2773.5 1491.1 2772.8C1492.7 2772 1494.4 2771.2 1496 2770.3C1497.7 2769.5 1499.3 2768.5 1500.9 2767.5C1502.6 2766.5 1504.2 2765.4 1505.8 2764.2C1507.5 2763.1 1509.1 2761.9 1510.7 2760.6C1512.4 2759.4 1514 2758.1 1515.7 2756.8C1517.3 2755.6 1518.9 2754.3 1520.6 2753C1522.2 2751.7 1523.8 2750.4 1525.5 2749.1C1527.1 2747.7 1528.8 2746.4 1530.4 2745C1532 2743.7 1533.7 2742.3 1535.3 2740.8C1536.9 2739.4 1538.6 2738 1540.2 2736.5C1541.9 2734.9 1543.5 2733.4 1545.1 2731.8C1546.8 2730.2 1548.4 2728.6 1550 2726.9C1551.7 2725.2 1553.3 2723.5 1554.9 2721.7C1556.6 2719.9 1558.2 2718.1 1559.9 2716.2C1561.5 2714.4 1563.1 2712.4 1564.8 2710.5C1566.4 2708.5 1568 2706.5 1569.7 2704.4C1571.3 2702.3 1573 2700.2 1574.6 2698C1576.2 2695.8 1577.9 2693.5 1579.5 2691.2C1581.1 2688.8 1582.8 2686.4 1584.4 2683.9C1586.1 2681.4 1587.7 2678.9 1589.3 2676.3C1591 2673.7 1592.6 2671.1 1594.2 2668.3C1595.9 2665.6 1597.5 2662.9 1599.2 2660.1C1600.8 2657.2 1602.4 2654.4 1604.1 2651.3C1605.7 2648.3 1607.3 2645.2 1609 2641.9C1610.6 2638.6 1612.2 2635.2 1613.9 2631.5C1615.5 2627.8 1617.2 2623.9 1618.8 2619.7C1620.4 2615.6 1622.1 2611.2 1623.7 2606.7C1625.3 2602.1 1627 2597.3 1628.6 2592.1C1630.3 2587 1631.9 2581.5 1633.5 2575.4C1635.2 2569.3 1636.8 2562.6 1638.4 2555.2C1640.1 2547.8 1641.7 2539.6 1643.4 2530.4C1645 2521.3 1646.6 2510.7 1648.3 2499.7C1649.9 2488.7 1651.5 2475.7 1653.2 2464.1C1654.8 2452.5 1656.4 2441.3 1658.1 2430.1C1659.7 2418.8 1661.4 2408.1 1663 2396.7C1664.6 2385.3 1666.3 2373.5 1667.9 2361.3C1669.5 2349.2 1671.2 2337 1672.8 2323.8C1674.5 2310.7 1676.1 2296.6 1677.7 2282.4C1679.4 2268.3 1681 2253.4 1682.6 2238.9C1684.3 2224.5 1685.9 2210.2 1687.6 2195.7C1689.2 2181.3 1690.8 2166 1692.5 2152.2C1694.1 2138.3 1695.7 2125.7 1697.4 2112.4C1699 2099.2 1700.7 2085.3 1702.3 2072.8C1703.9 2060.2 1705.6 2045.8 1707.2 2036.8C1708.8 2027.9 1710.5 2019.4 1712.1 2015.4C1713.7 2011.4 1715.4 2007 1717 2007C1718.7 2007 1720.3 2012.3 1721.9 2017.7C1723.6 2023.1 1725.2 2036.3 1726.8 2050.3C1728.5 2064.3 1730.1 2086.3 1731.8 2109.3C1733.4 2132.3 1735 2164.1 1736.7 2192.2C1738.3 2220.3 1739.9 2247.9 1741.6 2278C1743.2 2308 1744.9 2340.4 1746.5 2372.8C1748.1 2405.2 1749.8 2438.4 1751.4 2472.3C1753 2506.2 1754.7 2545.2 1756.3 2576.1C1757.9 2607.1 1759.6 2635.3 1761.2 2660.1C1762.9 2685 1764.5 2708.9 1766.1 2727.1C1767.8 2745.3 1769.4 2762.1 1771 2773.2C1772.7 2784.3 1774.3 2792.5 1776 2799.1C1777.6 2805.8 1779.2 2811.2 1780.9 2815.2C1782.5 2819.2 1784.1 2823.3 1785.8 2824.9C1787.4 2826.6 1789.1 2827.8 1790.7 2828.3C1792.3 2828.7 1794 2828.9 1795.6 2829.1C1797.2 2829.3 1798.9 2829.5 1800.5 2829.7C1802.1 2829.8 1803.8 2830 1805.4 2830.1C1807.1 2830.3 1808.7 2830.4 1810.3 2830.5C1811.5 2830.6 1812.7 2830.6 1813.8 2830.7C1819.5 2830.9 1825.1 2831.2 1830.7 2831.2C1836.3 2831.2 1841.9 2831.2 1847.5 2831.1C1853.1 2831 1858.7 2830.6 1864.4 2830.3C1870 2829.9 1875.6 2829.5 1881.2 2829C1886.8 2828.6 1892.4 2828.1 1898 2827.7C1903.6 2827.3 1909.3 2826.9 1914.9 2826.5C1920.5 2826.1 1926.1 2825.8 1931.7 2825.3C1937.3 2824.8 1942.9 2824.3 1948.6 2823.6C1954.2 2822.9 1959.8 2821.7 1965.4 2821.1C1971 2820.5 1976.6 2820 1982.2 2819.7C1987.8 2819.4 1993.5 2819 1999.1 2819C2004.7 2819 2010.3 2819.1 2015.9 2819.3C2021.5 2819.4 2027.1 2820.1 2032.7 2820.5C2038.4 2820.9 2044 2821.3 2049.6 2821.7C2055.2 2822.1 2060.8 2822.6 2066.4 2823C2072 2823.5 2077.6 2823.9 2083.3 2824.3C2088.9 2824.7 2094.5 2825.1 2100.1 2825.4C2105.7 2825.7 2111.3 2825.9 2116.9 2826.2C2122.6 2826.4 2128.2 2826.6 2133.8 2826.8C2139.4 2827 2145 2827.2 2150.6 2827.4C2156.2 2827.6 2161.8 2827.8 2167.5 2828.1C2173.1 2828.3 2178.7 2828.5 2184.3 2828.7C2189.9 2828.9 2195.5 2829.1 2201.1 2829.4C2206.7 2829.6 2212.4 2829.8 2218 2830C2223.6 2830.2 2229.2 2830.3 2234.8 2830.5C2240.4 2830.7 2246 2830.8 2251.6 2831C2257.3 2831.1 2262.9 2831.3 2268.5 2831.4C2274.1 2831.6 2279.7 2831.7 2285.3 2831.8C2290.9 2831.9 2296.5 2832 2302.2 2832.1C2307.8 2832.1 2313.4 2832.2 2319 2832.2" fill="none" stroke="#0072c4" stroke-width="9.8" stroke-linecap="round" stroke-linejoin="round" stroke-dasharray="28.1 38.6"/>
</g>
<g font-family="'Liberation Serif',serif" font-weight="bold" font-size="59.5" fill="#000">
<path d="M431.8 1791.8H555.3" fill="none" stroke="#8a8a8a" stroke-width="9.8" stroke-linecap="round" stroke-dasharray="18.9 19.5"/>
<text x="570" y="1807.5" textLength="329.5" lengthAdjust="spacingAndGlyphs">PP(HP400N)</text>
<path d="M431.8 1882H555.3" fill="none" stroke="#fb7f2a" stroke-width="9.8" stroke-linecap="round" />
<text x="570" y="1901" textLength="476.5" lengthAdjust="spacingAndGlyphs">PP-15APP-20LAC</text>
<path d="M431.8 1975.3H555.3" fill="none" stroke="#ffc000" stroke-width="9.8" stroke-linecap="round" stroke-dasharray="18.9 19.5"/>
<text x="570" y="1993.7" textLength="279.5" lengthAdjust="spacingAndGlyphs">PP-30LAC</text>
<path d="M431.8 2068.5H555.3" fill="none" stroke="#00b4f0" stroke-width="9.8" stroke-linecap="round" stroke-dasharray="0.01 19.1"/>
<text x="570" y="2085.6" textLength="270.5" lengthAdjust="spacingAndGlyphs">PP-20APP</text>
<path d="M431.8 2159H555.3" fill="none" stroke="#0072c4" stroke-width="9.8" stroke-linecap="round" stroke-dasharray="28.1 38.6"/>
<text x="570" y="2178" textLength="270.5" lengthAdjust="spacingAndGlyphs">PP-15APP</text>
</g>
</g>
<g font-family="'Liberation Serif',serif" font-weight="bold" fill="#000">
<text x="1046" y="1426.7" font-size="71.5" textLength="390.5" lengthAdjust="spacingAndGlyphs">Temperature</text>
<text x="1468" y="1426.7" font-size="71.5" textLength="130" lengthAdjust="spacingAndGlyphs">(˚C)</text>
<text transform="translate(129 966) rotate(-90)" font-size="71.5" textLength="251" lengthAdjust="spacingAndGlyphs">Relative</text>
<text transform="translate(129 702) rotate(-90)" font-size="71.5" textLength="200.5" lengthAdjust="spacingAndGlyphs">weight</text>
<text transform="translate(129 467.5) rotate(-90)" font-size="71.5" textLength="130" lengthAdjust="spacingAndGlyphs">(%)</text>
<text x="1117" y="2991" font-size="63" textLength="329" lengthAdjust="spacingAndGlyphs">Temperature</text>
<text x="1460.5" y="2991" font-size="63" textLength="102" lengthAdjust="spacingAndGlyphs">(˚C)</text>
<text transform="translate(178.6 2591) rotate(-90)" font-size="67" textLength="170" lengthAdjust="spacingAndGlyphs">Deriv.</text>
<text transform="translate(178.6 2389) rotate(-90)" font-size="67" textLength="193" lengthAdjust="spacingAndGlyphs">Weight</text>
<text transform="translate(178.6 2157) rotate(-90)" font-size="67" textLength="212" lengthAdjust="spacingAndGlyphs">(%/°C)</text>
</g>
<g font-family="'Liberation Serif',serif" font-size="85" fill="#000">
<text x="1188.5" y="1578.5">(</text><text x="1215" y="1579" font-weight="bold" font-size="88">a</text><text x="1255.5" y="1578.5">)</text>
<text x="1183.5" y="3198.5">(</text><text x="1210" y="3199" font-weight="bold" font-size="91">b</text><text x="1260.5" y="3198.5">)</text>
</g>
</svg>
</body></html>
